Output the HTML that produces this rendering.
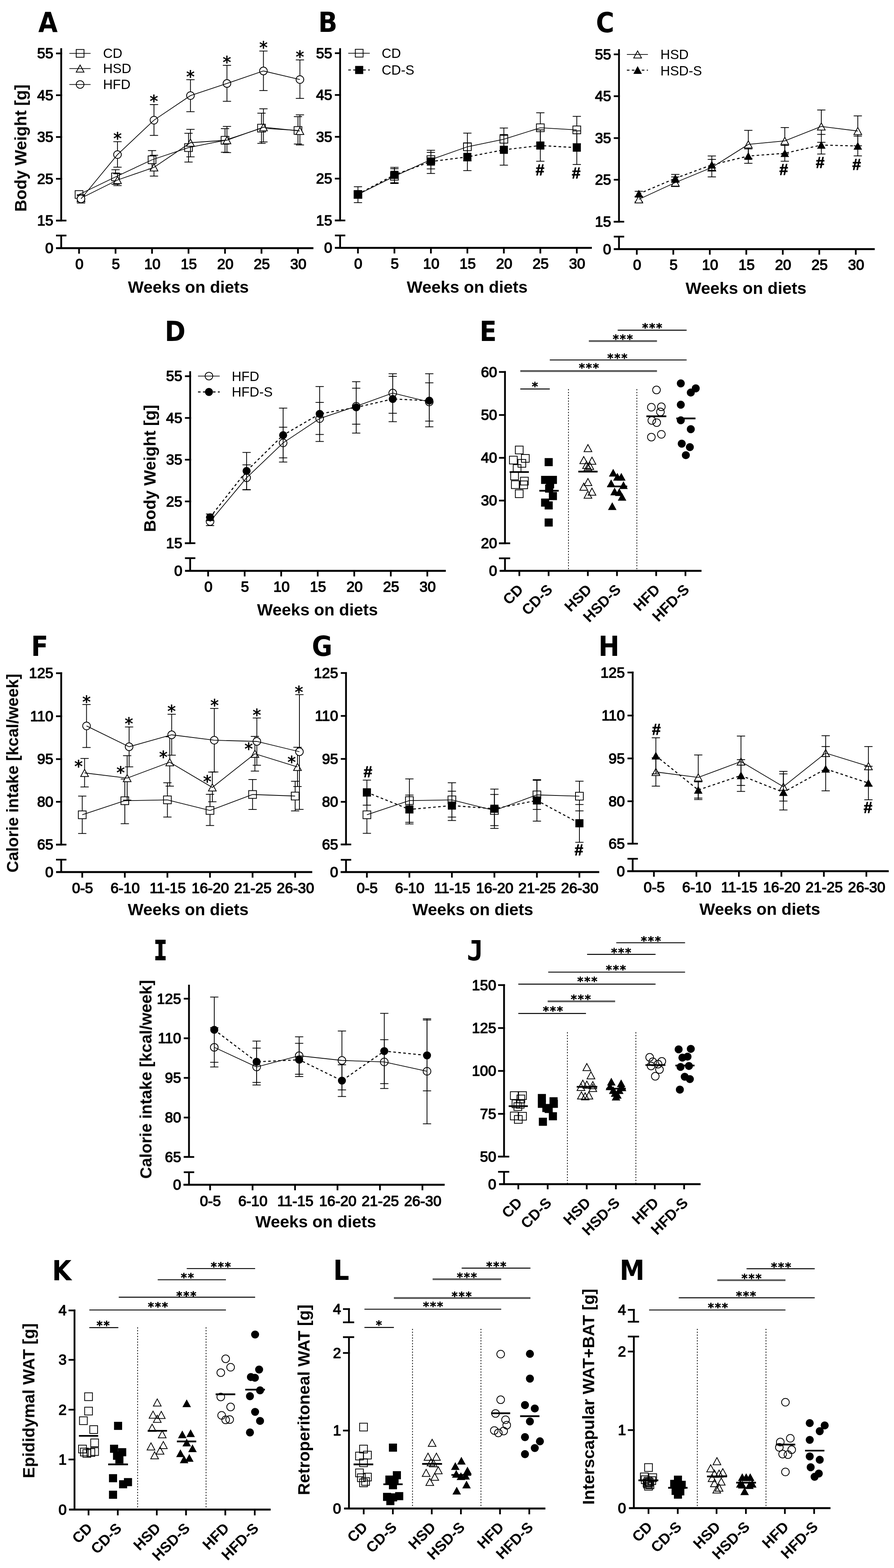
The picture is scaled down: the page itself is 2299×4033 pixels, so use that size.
<!DOCTYPE html>
<html lang="en"><head><meta charset="utf-8"><title>Figure</title>
<style>html,body{margin:0;padding:0;background:#fff}svg{display:block}text{fill:#000}</style></head><body>
<svg width="2299" height="4033" viewBox="0 0 2299 4033">
<defs><filter id="soft" x="0" y="0" width="2299" height="4033" filterUnits="userSpaceOnUse"><feGaussianBlur stdDeviation="0.55"/></filter></defs>
<rect width="2299" height="4033" fill="#fff"/>
<g filter="url(#soft)">
<text x="98.5" y="82" font-family="'DejaVu Sans Condensed','DejaVu Sans',sans-serif" font-size="71.5" font-weight="bold">A</text>
<line x1="157.4" y1="124" x2="157.4" y2="567.3" stroke="#000" stroke-width="4.6"/>
<line x1="157.4" y1="605.8" x2="157.4" y2="638.2" stroke="#000" stroke-width="4.6"/>
<line x1="144" y1="137.4" x2="159.7" y2="137.4" stroke="#000" stroke-width="4.4"/>
<text x="137.2" y="150.2" font-family="'Liberation Sans',sans-serif" font-size="37.5" stroke="#000" stroke-width="1.6" stroke-linejoin="round" text-anchor="end">55</text>
<line x1="144" y1="244.9" x2="159.7" y2="244.9" stroke="#000" stroke-width="4.4"/>
<text x="137.2" y="257.7" font-family="'Liberation Sans',sans-serif" font-size="37.5" stroke="#000" stroke-width="1.6" stroke-linejoin="round" text-anchor="end">45</text>
<line x1="144" y1="352.4" x2="159.7" y2="352.4" stroke="#000" stroke-width="4.4"/>
<text x="137.2" y="365.2" font-family="'Liberation Sans',sans-serif" font-size="37.5" stroke="#000" stroke-width="1.6" stroke-linejoin="round" text-anchor="end">35</text>
<line x1="144" y1="459.9" x2="159.7" y2="459.9" stroke="#000" stroke-width="4.4"/>
<text x="137.2" y="472.7" font-family="'Liberation Sans',sans-serif" font-size="37.5" stroke="#000" stroke-width="1.6" stroke-linejoin="round" text-anchor="end">25</text>
<line x1="144" y1="567.3" x2="159.7" y2="567.3" stroke="#000" stroke-width="4.4"/>
<line x1="144" y1="567.3" x2="170.8" y2="567.3" stroke="#000" stroke-width="4.4"/>
<line x1="144" y1="605.8" x2="170.8" y2="605.8" stroke="#000" stroke-width="4.4"/>
<text x="137.2" y="580.1" font-family="'Liberation Sans',sans-serif" font-size="37.5" stroke="#000" stroke-width="1.6" stroke-linejoin="round" text-anchor="end">15</text>
<text x="137.2" y="651" font-family="'Liberation Sans',sans-serif" font-size="37.5" stroke="#000" stroke-width="1.6" stroke-linejoin="round" text-anchor="end">0</text>
<line x1="144" y1="638.2" x2="806" y2="638.2" stroke="#000" stroke-width="5"/>
<line x1="203.3" y1="638.2" x2="203.3" y2="652.5" stroke="#000" stroke-width="4.4"/>
<text x="204.1" y="691.6" font-family="'Liberation Sans',sans-serif" font-size="37.5" stroke="#000" stroke-width="1.6" stroke-linejoin="round" text-anchor="middle">0</text>
<line x1="297.13" y1="638.2" x2="297.13" y2="652.5" stroke="#000" stroke-width="4.4"/>
<text x="297.93" y="691.6" font-family="'Liberation Sans',sans-serif" font-size="37.5" stroke="#000" stroke-width="1.6" stroke-linejoin="round" text-anchor="middle">5</text>
<line x1="390.96" y1="638.2" x2="390.96" y2="652.5" stroke="#000" stroke-width="4.4"/>
<text x="391.76" y="691.6" font-family="'Liberation Sans',sans-serif" font-size="37.5" stroke="#000" stroke-width="1.6" stroke-linejoin="round" text-anchor="middle">10</text>
<line x1="484.79" y1="638.2" x2="484.79" y2="652.5" stroke="#000" stroke-width="4.4"/>
<text x="485.59" y="691.6" font-family="'Liberation Sans',sans-serif" font-size="37.5" stroke="#000" stroke-width="1.6" stroke-linejoin="round" text-anchor="middle">15</text>
<line x1="578.62" y1="638.2" x2="578.62" y2="652.5" stroke="#000" stroke-width="4.4"/>
<text x="579.42" y="691.6" font-family="'Liberation Sans',sans-serif" font-size="37.5" stroke="#000" stroke-width="1.6" stroke-linejoin="round" text-anchor="middle">20</text>
<line x1="672.45" y1="638.2" x2="672.45" y2="652.5" stroke="#000" stroke-width="4.4"/>
<text x="673.25" y="691.6" font-family="'Liberation Sans',sans-serif" font-size="37.5" stroke="#000" stroke-width="1.6" stroke-linejoin="round" text-anchor="middle">25</text>
<line x1="766.28" y1="638.2" x2="766.28" y2="652.5" stroke="#000" stroke-width="4.4"/>
<text x="767.08" y="691.6" font-family="'Liberation Sans',sans-serif" font-size="37.5" stroke="#000" stroke-width="1.6" stroke-linejoin="round" text-anchor="middle">30</text>
<text x="484.5" y="752.7" font-family="'Liberation Sans',sans-serif" font-size="42.8" font-weight="bold" text-anchor="middle">Weeks on diets</text>
<text x="67.8" y="381" font-family="'Liberation Sans',sans-serif" font-size="42.8" transform="rotate(-90 67.8 381)" font-weight="bold" text-anchor="middle">Body Weight [g]</text>
<line x1="203.3" y1="493" x2="203.3" y2="508" stroke="#000" stroke-width="2"/>
<line x1="192.7" y1="493" x2="213.9" y2="493" stroke="#000" stroke-width="2"/>
<line x1="192.7" y1="508" x2="213.9" y2="508" stroke="#000" stroke-width="2"/>
<line x1="297.13" y1="436.5" x2="297.13" y2="474" stroke="#000" stroke-width="2"/>
<line x1="286.53" y1="436.5" x2="307.73" y2="436.5" stroke="#000" stroke-width="2"/>
<line x1="286.53" y1="474" x2="307.73" y2="474" stroke="#000" stroke-width="2"/>
<line x1="390.96" y1="387.3" x2="390.96" y2="435" stroke="#000" stroke-width="2"/>
<line x1="380.36" y1="387.3" x2="401.56" y2="387.3" stroke="#000" stroke-width="2"/>
<line x1="380.36" y1="435" x2="401.56" y2="435" stroke="#000" stroke-width="2"/>
<line x1="484.79" y1="342.8" x2="484.79" y2="416.8" stroke="#000" stroke-width="2"/>
<line x1="474.19" y1="342.8" x2="495.39" y2="342.8" stroke="#000" stroke-width="2"/>
<line x1="474.19" y1="416.8" x2="495.39" y2="416.8" stroke="#000" stroke-width="2"/>
<line x1="578.62" y1="330.8" x2="578.62" y2="391.6" stroke="#000" stroke-width="2"/>
<line x1="568.02" y1="330.8" x2="589.22" y2="330.8" stroke="#000" stroke-width="2"/>
<line x1="568.02" y1="391.6" x2="589.22" y2="391.6" stroke="#000" stroke-width="2"/>
<line x1="672.45" y1="291.1" x2="672.45" y2="368.8" stroke="#000" stroke-width="2"/>
<line x1="661.85" y1="291.1" x2="683.05" y2="291.1" stroke="#000" stroke-width="2"/>
<line x1="661.85" y1="368.8" x2="683.05" y2="368.8" stroke="#000" stroke-width="2"/>
<line x1="766.28" y1="300" x2="766.28" y2="370.4" stroke="#000" stroke-width="2"/>
<line x1="755.68" y1="300" x2="776.88" y2="300" stroke="#000" stroke-width="2"/>
<line x1="755.68" y1="370.4" x2="776.88" y2="370.4" stroke="#000" stroke-width="2"/>
<rect x="193.3" y="490.3" width="20" height="20" fill="#fff" stroke="#000" stroke-width="2"/>
<rect x="287.13" y="445" width="20" height="20" fill="#fff" stroke="#000" stroke-width="2"/>
<rect x="380.96" y="401" width="20" height="20" fill="#fff" stroke="#000" stroke-width="2"/>
<rect x="474.79" y="369.6" width="20" height="20" fill="#fff" stroke="#000" stroke-width="2"/>
<rect x="568.62" y="350.8" width="20" height="20" fill="#fff" stroke="#000" stroke-width="2"/>
<rect x="662.45" y="319.6" width="20" height="20" fill="#fff" stroke="#000" stroke-width="2"/>
<rect x="756.28" y="325.6" width="20" height="20" fill="#fff" stroke="#000" stroke-width="2"/>
<polyline points="203.3,500.3 297.13,455 390.96,411 484.79,379.6 578.62,360.8 672.45,329.6 766.28,335.6" fill="none" stroke="#000" stroke-width="1.8"/>
<line x1="208.3" y1="503" x2="208.3" y2="516.5" stroke="#000" stroke-width="2"/>
<line x1="197.7" y1="503" x2="218.9" y2="503" stroke="#000" stroke-width="2"/>
<line x1="197.7" y1="516.5" x2="218.9" y2="516.5" stroke="#000" stroke-width="2"/>
<line x1="302.13" y1="447" x2="302.13" y2="477.4" stroke="#000" stroke-width="2"/>
<line x1="291.53" y1="447" x2="312.73" y2="447" stroke="#000" stroke-width="2"/>
<line x1="291.53" y1="477.4" x2="312.73" y2="477.4" stroke="#000" stroke-width="2"/>
<line x1="395.96" y1="399.3" x2="395.96" y2="452.9" stroke="#000" stroke-width="2"/>
<line x1="385.36" y1="399.3" x2="406.56" y2="399.3" stroke="#000" stroke-width="2"/>
<line x1="385.36" y1="452.9" x2="406.56" y2="452.9" stroke="#000" stroke-width="2"/>
<line x1="489.79" y1="332.7" x2="489.79" y2="403.4" stroke="#000" stroke-width="2"/>
<line x1="479.19" y1="332.7" x2="500.39" y2="332.7" stroke="#000" stroke-width="2"/>
<line x1="479.19" y1="403.4" x2="500.39" y2="403.4" stroke="#000" stroke-width="2"/>
<line x1="583.62" y1="325.2" x2="583.62" y2="392.5" stroke="#000" stroke-width="2"/>
<line x1="573.02" y1="325.2" x2="594.22" y2="325.2" stroke="#000" stroke-width="2"/>
<line x1="573.02" y1="392.5" x2="594.22" y2="392.5" stroke="#000" stroke-width="2"/>
<line x1="677.45" y1="279.8" x2="677.45" y2="365.1" stroke="#000" stroke-width="2"/>
<line x1="666.85" y1="279.8" x2="688.05" y2="279.8" stroke="#000" stroke-width="2"/>
<line x1="666.85" y1="365.1" x2="688.05" y2="365.1" stroke="#000" stroke-width="2"/>
<line x1="771.28" y1="295.4" x2="771.28" y2="372.8" stroke="#000" stroke-width="2"/>
<line x1="760.68" y1="295.4" x2="781.88" y2="295.4" stroke="#000" stroke-width="2"/>
<line x1="760.68" y1="372.8" x2="781.88" y2="372.8" stroke="#000" stroke-width="2"/>
<polygon points="208.3,500.6 218.3,519 198.3,519" fill="#fff" stroke="#000" stroke-width="2" stroke-linejoin="miter"/>
<polygon points="302.13,453.8 312.13,472.2 292.13,472.2" fill="#fff" stroke="#000" stroke-width="2" stroke-linejoin="miter"/>
<polygon points="395.96,421.3 405.96,439.7 385.96,439.7" fill="#fff" stroke="#000" stroke-width="2" stroke-linejoin="miter"/>
<polygon points="489.79,357.8 499.79,376.2 479.79,376.2" fill="#fff" stroke="#000" stroke-width="2" stroke-linejoin="miter"/>
<polygon points="583.62,351.3 593.62,369.7 573.62,369.7" fill="#fff" stroke="#000" stroke-width="2" stroke-linejoin="miter"/>
<polygon points="677.45,318 687.45,336.4 667.45,336.4" fill="#fff" stroke="#000" stroke-width="2" stroke-linejoin="miter"/>
<polygon points="771.28,327.6 781.28,346 761.28,346" fill="#fff" stroke="#000" stroke-width="2" stroke-linejoin="miter"/>
<polyline points="208.3,509.8 302.13,463 395.96,430.5 489.79,367 583.62,360.5 677.45,327.2 771.28,336.8" fill="none" stroke="#000" stroke-width="1.8"/>
<line x1="208.3" y1="500.8" x2="208.3" y2="522.2" stroke="#000" stroke-width="2"/>
<line x1="197.7" y1="500.8" x2="218.9" y2="500.8" stroke="#000" stroke-width="2"/>
<line x1="197.7" y1="522.2" x2="218.9" y2="522.2" stroke="#000" stroke-width="2"/>
<line x1="302.13" y1="364.4" x2="302.13" y2="430" stroke="#000" stroke-width="2"/>
<line x1="291.53" y1="364.4" x2="312.73" y2="364.4" stroke="#000" stroke-width="2"/>
<line x1="291.53" y1="430" x2="312.73" y2="430" stroke="#000" stroke-width="2"/>
<line x1="395.96" y1="269" x2="395.96" y2="348.3" stroke="#000" stroke-width="2"/>
<line x1="385.36" y1="269" x2="406.56" y2="269" stroke="#000" stroke-width="2"/>
<line x1="385.36" y1="348.3" x2="406.56" y2="348.3" stroke="#000" stroke-width="2"/>
<line x1="489.79" y1="205" x2="489.79" y2="287.3" stroke="#000" stroke-width="2"/>
<line x1="479.19" y1="205" x2="500.39" y2="205" stroke="#000" stroke-width="2"/>
<line x1="479.19" y1="287.3" x2="500.39" y2="287.3" stroke="#000" stroke-width="2"/>
<line x1="583.62" y1="168" x2="583.62" y2="260.6" stroke="#000" stroke-width="2"/>
<line x1="573.02" y1="168" x2="594.22" y2="168" stroke="#000" stroke-width="2"/>
<line x1="573.02" y1="260.6" x2="594.22" y2="260.6" stroke="#000" stroke-width="2"/>
<line x1="677.45" y1="131.3" x2="677.45" y2="232.9" stroke="#000" stroke-width="2"/>
<line x1="666.85" y1="131.3" x2="688.05" y2="131.3" stroke="#000" stroke-width="2"/>
<line x1="666.85" y1="232.9" x2="688.05" y2="232.9" stroke="#000" stroke-width="2"/>
<line x1="771.28" y1="154.1" x2="771.28" y2="253.1" stroke="#000" stroke-width="2"/>
<line x1="760.68" y1="154.1" x2="781.88" y2="154.1" stroke="#000" stroke-width="2"/>
<line x1="760.68" y1="253.1" x2="781.88" y2="253.1" stroke="#000" stroke-width="2"/>
<circle cx="208.3" cy="511.5" r="9.9" fill="#fff" stroke="#000" stroke-width="2"/>
<circle cx="302.13" cy="397.6" r="9.9" fill="#fff" stroke="#000" stroke-width="2"/>
<circle cx="395.96" cy="309.1" r="9.9" fill="#fff" stroke="#000" stroke-width="2"/>
<circle cx="489.79" cy="245.9" r="9.9" fill="#fff" stroke="#000" stroke-width="2"/>
<circle cx="583.62" cy="214.7" r="9.9" fill="#fff" stroke="#000" stroke-width="2"/>
<circle cx="677.45" cy="182.5" r="9.9" fill="#fff" stroke="#000" stroke-width="2"/>
<circle cx="771.28" cy="204.6" r="9.9" fill="#fff" stroke="#000" stroke-width="2"/>
<polyline points="208.3,511.5 302.13,397.6 395.96,309.1 489.79,245.9 583.62,214.7 677.45,182.5 771.28,204.6" fill="none" stroke="#000" stroke-width="1.8"/>
<text x="302.2" y="370.57" font-family="'DejaVu Sans',sans-serif" font-size="43" stroke="#000" stroke-width="1" stroke-linejoin="round" text-anchor="middle">*</text>
<text x="395.7" y="274.87" font-family="'DejaVu Sans',sans-serif" font-size="43" stroke="#000" stroke-width="1" stroke-linejoin="round" text-anchor="middle">*</text>
<text x="489.7" y="211.97" font-family="'DejaVu Sans',sans-serif" font-size="43" stroke="#000" stroke-width="1" stroke-linejoin="round" text-anchor="middle">*</text>
<text x="583.4" y="175.07" font-family="'DejaVu Sans',sans-serif" font-size="43" stroke="#000" stroke-width="1" stroke-linejoin="round" text-anchor="middle">*</text>
<text x="677.6" y="137.37" font-family="'DejaVu Sans',sans-serif" font-size="43" stroke="#000" stroke-width="1" stroke-linejoin="round" text-anchor="middle">*</text>
<text x="771.2" y="160.77" font-family="'DejaVu Sans',sans-serif" font-size="43" stroke="#000" stroke-width="1" stroke-linejoin="round" text-anchor="middle">*</text>
<rect x="196" y="127.3" width="20" height="20" fill="#fff" stroke="#000" stroke-width="2"/>
<line x1="178.4" y1="137.3" x2="232.9" y2="137.3" stroke="#000" stroke-width="1.8"/>
<text x="265" y="149.3" font-family="'Liberation Sans',sans-serif" font-size="34.4">CD</text>
<polygon points="206,167.2 216,185.6 196,185.6" fill="#fff" stroke="#000" stroke-width="2" stroke-linejoin="miter"/>
<line x1="178.4" y1="176.4" x2="232.9" y2="176.4" stroke="#000" stroke-width="1.8"/>
<text x="265" y="188.2" font-family="'Liberation Sans',sans-serif" font-size="34.4">HSD</text>
<circle cx="206" cy="217.3" r="9.9" fill="#fff" stroke="#000" stroke-width="2"/>
<line x1="178.4" y1="217.3" x2="232.9" y2="217.3" stroke="#000" stroke-width="1.8"/>
<text x="265" y="229.1" font-family="'Liberation Sans',sans-serif" font-size="34.4">HFD</text>
<text x="818.5" y="82" font-family="'DejaVu Sans Condensed','DejaVu Sans',sans-serif" font-size="71.5" font-weight="bold">B</text>
<line x1="874.6" y1="124" x2="874.6" y2="567" stroke="#000" stroke-width="4.6"/>
<line x1="874.6" y1="605.6" x2="874.6" y2="637.6" stroke="#000" stroke-width="4.6"/>
<line x1="861.2" y1="136.8" x2="876.9" y2="136.8" stroke="#000" stroke-width="4.4"/>
<text x="854.4" y="149.6" font-family="'Liberation Sans',sans-serif" font-size="37.5" stroke="#000" stroke-width="1.6" stroke-linejoin="round" text-anchor="end">55</text>
<line x1="861.2" y1="244.3" x2="876.9" y2="244.3" stroke="#000" stroke-width="4.4"/>
<text x="854.4" y="257.1" font-family="'Liberation Sans',sans-serif" font-size="37.5" stroke="#000" stroke-width="1.6" stroke-linejoin="round" text-anchor="end">45</text>
<line x1="861.2" y1="351.9" x2="876.9" y2="351.9" stroke="#000" stroke-width="4.4"/>
<text x="854.4" y="364.7" font-family="'Liberation Sans',sans-serif" font-size="37.5" stroke="#000" stroke-width="1.6" stroke-linejoin="round" text-anchor="end">35</text>
<line x1="861.2" y1="459.4" x2="876.9" y2="459.4" stroke="#000" stroke-width="4.4"/>
<text x="854.4" y="472.2" font-family="'Liberation Sans',sans-serif" font-size="37.5" stroke="#000" stroke-width="1.6" stroke-linejoin="round" text-anchor="end">25</text>
<line x1="861.2" y1="567" x2="876.9" y2="567" stroke="#000" stroke-width="4.4"/>
<line x1="861.2" y1="567" x2="888" y2="567" stroke="#000" stroke-width="4.4"/>
<line x1="861.2" y1="605.6" x2="888" y2="605.6" stroke="#000" stroke-width="4.4"/>
<text x="854.4" y="579.8" font-family="'Liberation Sans',sans-serif" font-size="37.5" stroke="#000" stroke-width="1.6" stroke-linejoin="round" text-anchor="end">15</text>
<text x="854.4" y="650.4" font-family="'Liberation Sans',sans-serif" font-size="37.5" stroke="#000" stroke-width="1.6" stroke-linejoin="round" text-anchor="end">0</text>
<line x1="861.2" y1="637.6" x2="1522" y2="637.6" stroke="#000" stroke-width="5"/>
<line x1="920.5" y1="637.6" x2="920.5" y2="651.9" stroke="#000" stroke-width="4.4"/>
<text x="921.3" y="691" font-family="'Liberation Sans',sans-serif" font-size="37.5" stroke="#000" stroke-width="1.6" stroke-linejoin="round" text-anchor="middle">0</text>
<line x1="1014.3" y1="637.6" x2="1014.3" y2="651.9" stroke="#000" stroke-width="4.4"/>
<text x="1015.1" y="691" font-family="'Liberation Sans',sans-serif" font-size="37.5" stroke="#000" stroke-width="1.6" stroke-linejoin="round" text-anchor="middle">5</text>
<line x1="1108.1" y1="637.6" x2="1108.1" y2="651.9" stroke="#000" stroke-width="4.4"/>
<text x="1108.9" y="691" font-family="'Liberation Sans',sans-serif" font-size="37.5" stroke="#000" stroke-width="1.6" stroke-linejoin="round" text-anchor="middle">10</text>
<line x1="1201.9" y1="637.6" x2="1201.9" y2="651.9" stroke="#000" stroke-width="4.4"/>
<text x="1202.7" y="691" font-family="'Liberation Sans',sans-serif" font-size="37.5" stroke="#000" stroke-width="1.6" stroke-linejoin="round" text-anchor="middle">15</text>
<line x1="1295.7" y1="637.6" x2="1295.7" y2="651.9" stroke="#000" stroke-width="4.4"/>
<text x="1296.5" y="691" font-family="'Liberation Sans',sans-serif" font-size="37.5" stroke="#000" stroke-width="1.6" stroke-linejoin="round" text-anchor="middle">20</text>
<line x1="1389.5" y1="637.6" x2="1389.5" y2="651.9" stroke="#000" stroke-width="4.4"/>
<text x="1390.3" y="691" font-family="'Liberation Sans',sans-serif" font-size="37.5" stroke="#000" stroke-width="1.6" stroke-linejoin="round" text-anchor="middle">25</text>
<line x1="1483.3" y1="637.6" x2="1483.3" y2="651.9" stroke="#000" stroke-width="4.4"/>
<text x="1484.1" y="691" font-family="'Liberation Sans',sans-serif" font-size="37.5" stroke="#000" stroke-width="1.6" stroke-linejoin="round" text-anchor="middle">30</text>
<text x="1201.5" y="752.7" font-family="'Liberation Sans',sans-serif" font-size="42.8" font-weight="bold" text-anchor="middle">Weeks on diets</text>
<line x1="920.5" y1="493" x2="920.5" y2="508" stroke="#000" stroke-width="2"/>
<line x1="909.9" y1="493" x2="931.1" y2="493" stroke="#000" stroke-width="2"/>
<line x1="909.9" y1="508" x2="931.1" y2="508" stroke="#000" stroke-width="2"/>
<line x1="1014.3" y1="434" x2="1014.3" y2="472" stroke="#000" stroke-width="2"/>
<line x1="1003.7" y1="434" x2="1024.9" y2="434" stroke="#000" stroke-width="2"/>
<line x1="1003.7" y1="472" x2="1024.9" y2="472" stroke="#000" stroke-width="2"/>
<line x1="1108.1" y1="386.5" x2="1108.1" y2="434.4" stroke="#000" stroke-width="2"/>
<line x1="1097.5" y1="386.5" x2="1118.7" y2="386.5" stroke="#000" stroke-width="2"/>
<line x1="1097.5" y1="434.4" x2="1118.7" y2="434.4" stroke="#000" stroke-width="2"/>
<line x1="1201.9" y1="342.4" x2="1201.9" y2="414" stroke="#000" stroke-width="2"/>
<line x1="1191.3" y1="342.4" x2="1212.5" y2="342.4" stroke="#000" stroke-width="2"/>
<line x1="1191.3" y1="414" x2="1212.5" y2="414" stroke="#000" stroke-width="2"/>
<line x1="1295.7" y1="329.3" x2="1295.7" y2="388" stroke="#000" stroke-width="2"/>
<line x1="1285.1" y1="329.3" x2="1306.3" y2="329.3" stroke="#000" stroke-width="2"/>
<line x1="1285.1" y1="388" x2="1306.3" y2="388" stroke="#000" stroke-width="2"/>
<line x1="1389.5" y1="290.1" x2="1389.5" y2="367.5" stroke="#000" stroke-width="2"/>
<line x1="1378.9" y1="290.1" x2="1400.1" y2="290.1" stroke="#000" stroke-width="2"/>
<line x1="1378.9" y1="367.5" x2="1400.1" y2="367.5" stroke="#000" stroke-width="2"/>
<line x1="1483.3" y1="299.3" x2="1483.3" y2="369.5" stroke="#000" stroke-width="2"/>
<line x1="1472.7" y1="299.3" x2="1493.9" y2="299.3" stroke="#000" stroke-width="2"/>
<line x1="1472.7" y1="369.5" x2="1493.9" y2="369.5" stroke="#000" stroke-width="2"/>
<rect x="910.5" y="490.3" width="20" height="20" fill="#fff" stroke="#000" stroke-width="2"/>
<rect x="1004.3" y="443.4" width="20" height="20" fill="#fff" stroke="#000" stroke-width="2"/>
<rect x="1098.1" y="400.5" width="20" height="20" fill="#fff" stroke="#000" stroke-width="2"/>
<rect x="1191.9" y="367.5" width="20" height="20" fill="#fff" stroke="#000" stroke-width="2"/>
<rect x="1285.7" y="348.2" width="20" height="20" fill="#fff" stroke="#000" stroke-width="2"/>
<rect x="1379.5" y="318.6" width="20" height="20" fill="#fff" stroke="#000" stroke-width="2"/>
<rect x="1473.3" y="324.1" width="20" height="20" fill="#fff" stroke="#000" stroke-width="2"/>
<polyline points="920.5,500.3 1014.3,453.4 1108.1,410.5 1201.9,377.5 1295.7,358.2 1389.5,328.6 1483.3,334.1" fill="none" stroke="#000" stroke-width="1.8"/>
<line x1="920.5" y1="480.3" x2="920.5" y2="521.2" stroke="#000" stroke-width="2"/>
<line x1="909.9" y1="480.3" x2="931.1" y2="480.3" stroke="#000" stroke-width="2"/>
<line x1="909.9" y1="521.2" x2="931.1" y2="521.2" stroke="#000" stroke-width="2"/>
<line x1="1014.3" y1="430.5" x2="1014.3" y2="470" stroke="#000" stroke-width="2"/>
<line x1="1003.7" y1="430.5" x2="1024.9" y2="430.5" stroke="#000" stroke-width="2"/>
<line x1="1003.7" y1="470" x2="1024.9" y2="470" stroke="#000" stroke-width="2"/>
<line x1="1108.1" y1="392" x2="1108.1" y2="446.2" stroke="#000" stroke-width="2"/>
<line x1="1097.5" y1="392" x2="1118.7" y2="392" stroke="#000" stroke-width="2"/>
<line x1="1097.5" y1="446.2" x2="1118.7" y2="446.2" stroke="#000" stroke-width="2"/>
<line x1="1201.9" y1="368" x2="1201.9" y2="438.8" stroke="#000" stroke-width="2"/>
<line x1="1191.3" y1="368" x2="1212.5" y2="368" stroke="#000" stroke-width="2"/>
<line x1="1191.3" y1="438.8" x2="1212.5" y2="438.8" stroke="#000" stroke-width="2"/>
<line x1="1295.7" y1="346" x2="1295.7" y2="424.8" stroke="#000" stroke-width="2"/>
<line x1="1285.1" y1="346" x2="1306.3" y2="346" stroke="#000" stroke-width="2"/>
<line x1="1285.1" y1="424.8" x2="1306.3" y2="424.8" stroke="#000" stroke-width="2"/>
<line x1="1389.5" y1="334" x2="1389.5" y2="414.7" stroke="#000" stroke-width="2"/>
<line x1="1378.9" y1="334" x2="1400.1" y2="334" stroke="#000" stroke-width="2"/>
<line x1="1378.9" y1="414.7" x2="1400.1" y2="414.7" stroke="#000" stroke-width="2"/>
<line x1="1483.3" y1="336.5" x2="1483.3" y2="423.1" stroke="#000" stroke-width="2"/>
<line x1="1472.7" y1="336.5" x2="1493.9" y2="336.5" stroke="#000" stroke-width="2"/>
<line x1="1472.7" y1="423.1" x2="1493.9" y2="423.1" stroke="#000" stroke-width="2"/>
<rect x="910.1" y="489.1" width="20.8" height="20.8" fill="#000"/>
<rect x="1003.9" y="439.4" width="20.8" height="20.8" fill="#000"/>
<rect x="1097.7" y="405.1" width="20.8" height="20.8" fill="#000"/>
<rect x="1191.5" y="393.2" width="20.8" height="20.8" fill="#000"/>
<rect x="1285.3" y="374.9" width="20.8" height="20.8" fill="#000"/>
<rect x="1379.1" y="363.9" width="20.8" height="20.8" fill="#000"/>
<rect x="1472.9" y="369.4" width="20.8" height="20.8" fill="#000"/>
<polyline points="920.5,499.5 1014.3,449.8 1108.1,415.5 1201.9,403.6 1295.7,385.3 1389.5,374.3 1483.3,379.8" fill="none" stroke="#000" stroke-width="2.7" stroke-dasharray="6.6 6.2"/>
<text x="1388.7" y="450.6" font-family="'Liberation Sans',sans-serif" font-size="40" stroke="#000" stroke-width="1.1" stroke-linejoin="round" font-weight="bold" text-anchor="middle">#</text>
<text x="1481.7" y="458.8" font-family="'Liberation Sans',sans-serif" font-size="40" stroke="#000" stroke-width="1.1" stroke-linejoin="round" font-weight="bold" text-anchor="middle">#</text>
<rect x="913.7" y="126.8" width="20" height="20" fill="#fff" stroke="#000" stroke-width="2"/>
<line x1="895.6" y1="136.8" x2="950.9" y2="136.8" stroke="#000" stroke-width="1.8"/>
<text x="981.5" y="148.8" font-family="'Liberation Sans',sans-serif" font-size="34.4">CD</text>
<rect x="913.3" y="169.6" width="20.8" height="20.8" fill="#000"/>
<line x1="895.6" y1="180" x2="950.9" y2="180" stroke="#000" stroke-width="2.7" stroke-dasharray="6.6 6.2"/>
<text x="981.5" y="192" font-family="'Liberation Sans',sans-serif" font-size="34.4">CD-S</text>
<text x="1532.5" y="82.5" font-family="'DejaVu Sans Condensed','DejaVu Sans',sans-serif" font-size="71.5" font-weight="bold">C</text>
<line x1="1591.8" y1="126.4" x2="1591.8" y2="570.2" stroke="#000" stroke-width="4.6"/>
<line x1="1591.8" y1="608.6" x2="1591.8" y2="640.8" stroke="#000" stroke-width="4.6"/>
<line x1="1578.4" y1="139.8" x2="1594.1" y2="139.8" stroke="#000" stroke-width="4.4"/>
<text x="1571.6" y="152.6" font-family="'Liberation Sans',sans-serif" font-size="37.5" stroke="#000" stroke-width="1.6" stroke-linejoin="round" text-anchor="end">55</text>
<line x1="1578.4" y1="247.4" x2="1594.1" y2="247.4" stroke="#000" stroke-width="4.4"/>
<text x="1571.6" y="260.2" font-family="'Liberation Sans',sans-serif" font-size="37.5" stroke="#000" stroke-width="1.6" stroke-linejoin="round" text-anchor="end">45</text>
<line x1="1578.4" y1="355.2" x2="1594.1" y2="355.2" stroke="#000" stroke-width="4.4"/>
<text x="1571.6" y="368" font-family="'Liberation Sans',sans-serif" font-size="37.5" stroke="#000" stroke-width="1.6" stroke-linejoin="round" text-anchor="end">35</text>
<line x1="1578.4" y1="462.3" x2="1594.1" y2="462.3" stroke="#000" stroke-width="4.4"/>
<text x="1571.6" y="475.1" font-family="'Liberation Sans',sans-serif" font-size="37.5" stroke="#000" stroke-width="1.6" stroke-linejoin="round" text-anchor="end">25</text>
<line x1="1578.4" y1="570.2" x2="1594.1" y2="570.2" stroke="#000" stroke-width="4.4"/>
<line x1="1578.4" y1="570.2" x2="1605.2" y2="570.2" stroke="#000" stroke-width="4.4"/>
<line x1="1578.4" y1="608.6" x2="1605.2" y2="608.6" stroke="#000" stroke-width="4.4"/>
<text x="1571.6" y="583" font-family="'Liberation Sans',sans-serif" font-size="37.5" stroke="#000" stroke-width="1.6" stroke-linejoin="round" text-anchor="end">15</text>
<text x="1571.6" y="653.6" font-family="'Liberation Sans',sans-serif" font-size="37.5" stroke="#000" stroke-width="1.6" stroke-linejoin="round" text-anchor="end">0</text>
<line x1="1578.4" y1="640.8" x2="2249.5" y2="640.8" stroke="#000" stroke-width="5"/>
<line x1="1637.6" y1="640.8" x2="1637.6" y2="655.1" stroke="#000" stroke-width="4.4"/>
<text x="1638.4" y="694.2" font-family="'Liberation Sans',sans-serif" font-size="37.5" stroke="#000" stroke-width="1.6" stroke-linejoin="round" text-anchor="middle">0</text>
<line x1="1731.45" y1="640.8" x2="1731.45" y2="655.1" stroke="#000" stroke-width="4.4"/>
<text x="1732.25" y="694.2" font-family="'Liberation Sans',sans-serif" font-size="37.5" stroke="#000" stroke-width="1.6" stroke-linejoin="round" text-anchor="middle">5</text>
<line x1="1825.3" y1="640.8" x2="1825.3" y2="655.1" stroke="#000" stroke-width="4.4"/>
<text x="1826.1" y="694.2" font-family="'Liberation Sans',sans-serif" font-size="37.5" stroke="#000" stroke-width="1.6" stroke-linejoin="round" text-anchor="middle">10</text>
<line x1="1919.15" y1="640.8" x2="1919.15" y2="655.1" stroke="#000" stroke-width="4.4"/>
<text x="1919.95" y="694.2" font-family="'Liberation Sans',sans-serif" font-size="37.5" stroke="#000" stroke-width="1.6" stroke-linejoin="round" text-anchor="middle">15</text>
<line x1="2013" y1="640.8" x2="2013" y2="655.1" stroke="#000" stroke-width="4.4"/>
<text x="2013.8" y="694.2" font-family="'Liberation Sans',sans-serif" font-size="37.5" stroke="#000" stroke-width="1.6" stroke-linejoin="round" text-anchor="middle">20</text>
<line x1="2106.85" y1="640.8" x2="2106.85" y2="655.1" stroke="#000" stroke-width="4.4"/>
<text x="2107.65" y="694.2" font-family="'Liberation Sans',sans-serif" font-size="37.5" stroke="#000" stroke-width="1.6" stroke-linejoin="round" text-anchor="middle">25</text>
<line x1="2200.7" y1="640.8" x2="2200.7" y2="655.1" stroke="#000" stroke-width="4.4"/>
<text x="2201.5" y="694.2" font-family="'Liberation Sans',sans-serif" font-size="37.5" stroke="#000" stroke-width="1.6" stroke-linejoin="round" text-anchor="middle">30</text>
<text x="1918.5" y="755.5" font-family="'Liberation Sans',sans-serif" font-size="42.8" font-weight="bold" text-anchor="middle">Weeks on diets</text>
<line x1="1642.8" y1="506" x2="1642.8" y2="519" stroke="#000" stroke-width="2"/>
<line x1="1632.2" y1="506" x2="1653.4" y2="506" stroke="#000" stroke-width="2"/>
<line x1="1632.2" y1="519" x2="1653.4" y2="519" stroke="#000" stroke-width="2"/>
<line x1="1736.65" y1="455" x2="1736.65" y2="479.8" stroke="#000" stroke-width="2"/>
<line x1="1726.05" y1="455" x2="1747.25" y2="455" stroke="#000" stroke-width="2"/>
<line x1="1726.05" y1="479.8" x2="1747.25" y2="479.8" stroke="#000" stroke-width="2"/>
<line x1="1830.5" y1="401.2" x2="1830.5" y2="455" stroke="#000" stroke-width="2"/>
<line x1="1819.9" y1="401.2" x2="1841.1" y2="401.2" stroke="#000" stroke-width="2"/>
<line x1="1819.9" y1="455" x2="1841.1" y2="455" stroke="#000" stroke-width="2"/>
<line x1="1924.35" y1="335.3" x2="1924.35" y2="407" stroke="#000" stroke-width="2"/>
<line x1="1913.75" y1="335.3" x2="1934.95" y2="335.3" stroke="#000" stroke-width="2"/>
<line x1="1913.75" y1="407" x2="1934.95" y2="407" stroke="#000" stroke-width="2"/>
<line x1="2018.2" y1="328.1" x2="2018.2" y2="396" stroke="#000" stroke-width="2"/>
<line x1="2007.6" y1="328.1" x2="2028.8" y2="328.1" stroke="#000" stroke-width="2"/>
<line x1="2007.6" y1="396" x2="2028.8" y2="396" stroke="#000" stroke-width="2"/>
<line x1="2112.05" y1="282.9" x2="2112.05" y2="366" stroke="#000" stroke-width="2"/>
<line x1="2101.45" y1="282.9" x2="2122.65" y2="282.9" stroke="#000" stroke-width="2"/>
<line x1="2101.45" y1="366" x2="2122.65" y2="366" stroke="#000" stroke-width="2"/>
<line x1="2205.9" y1="298.1" x2="2205.9" y2="375" stroke="#000" stroke-width="2"/>
<line x1="2195.3" y1="298.1" x2="2216.5" y2="298.1" stroke="#000" stroke-width="2"/>
<line x1="2195.3" y1="375" x2="2216.5" y2="375" stroke="#000" stroke-width="2"/>
<polygon points="1642.8,503.5 1652.8,521.9 1632.8,521.9" fill="#fff" stroke="#000" stroke-width="2" stroke-linejoin="miter"/>
<polygon points="1736.65,460.3 1746.65,478.7 1726.65,478.7" fill="#fff" stroke="#000" stroke-width="2" stroke-linejoin="miter"/>
<polygon points="1830.5,421.6 1840.5,440 1820.5,440" fill="#fff" stroke="#000" stroke-width="2" stroke-linejoin="miter"/>
<polygon points="1924.35,362.2 1934.35,380.6 1914.35,380.6" fill="#fff" stroke="#000" stroke-width="2" stroke-linejoin="miter"/>
<polygon points="2018.2,353.1 2028.2,371.5 2008.2,371.5" fill="#fff" stroke="#000" stroke-width="2" stroke-linejoin="miter"/>
<polygon points="2112.05,316 2122.05,334.4 2102.05,334.4" fill="#fff" stroke="#000" stroke-width="2" stroke-linejoin="miter"/>
<polygon points="2205.9,327.8 2215.9,346.2 2195.9,346.2" fill="#fff" stroke="#000" stroke-width="2" stroke-linejoin="miter"/>
<polyline points="1642.8,512.7 1736.65,469.5 1830.5,430.8 1924.35,371.4 2018.2,362.3 2112.05,325.2 2205.9,337" fill="none" stroke="#000" stroke-width="1.8"/>
<line x1="1642.8" y1="492" x2="1642.8" y2="505" stroke="#000" stroke-width="2"/>
<line x1="1632.2" y1="492" x2="1653.4" y2="492" stroke="#000" stroke-width="2"/>
<line x1="1632.2" y1="505" x2="1653.4" y2="505" stroke="#000" stroke-width="2"/>
<line x1="1736.65" y1="448.6" x2="1736.65" y2="469" stroke="#000" stroke-width="2"/>
<line x1="1726.05" y1="448.6" x2="1747.25" y2="448.6" stroke="#000" stroke-width="2"/>
<line x1="1726.05" y1="469" x2="1747.25" y2="469" stroke="#000" stroke-width="2"/>
<line x1="1830.5" y1="410" x2="1830.5" y2="438" stroke="#000" stroke-width="2"/>
<line x1="1819.9" y1="410" x2="1841.1" y2="410" stroke="#000" stroke-width="2"/>
<line x1="1819.9" y1="438" x2="1841.1" y2="438" stroke="#000" stroke-width="2"/>
<line x1="1924.35" y1="383" x2="1924.35" y2="420" stroke="#000" stroke-width="2"/>
<line x1="1913.75" y1="383" x2="1934.95" y2="383" stroke="#000" stroke-width="2"/>
<line x1="1913.75" y1="420" x2="1934.95" y2="420" stroke="#000" stroke-width="2"/>
<line x1="2018.2" y1="374" x2="2018.2" y2="414.7" stroke="#000" stroke-width="2"/>
<line x1="2007.6" y1="374" x2="2028.8" y2="374" stroke="#000" stroke-width="2"/>
<line x1="2007.6" y1="414.7" x2="2028.8" y2="414.7" stroke="#000" stroke-width="2"/>
<line x1="2112.05" y1="345.7" x2="2112.05" y2="396.2" stroke="#000" stroke-width="2"/>
<line x1="2101.45" y1="345.7" x2="2122.65" y2="345.7" stroke="#000" stroke-width="2"/>
<line x1="2101.45" y1="396.2" x2="2122.65" y2="396.2" stroke="#000" stroke-width="2"/>
<line x1="2205.9" y1="350" x2="2205.9" y2="401" stroke="#000" stroke-width="2"/>
<line x1="2195.3" y1="350" x2="2216.5" y2="350" stroke="#000" stroke-width="2"/>
<line x1="2195.3" y1="401" x2="2216.5" y2="401" stroke="#000" stroke-width="2"/>
<polygon points="1642.8,488 1653.8,508 1631.8,508" fill="#000"/>
<polygon points="1736.65,448.2 1747.65,468.2 1725.65,468.2" fill="#000"/>
<polygon points="1830.5,413.5 1841.5,433.5 1819.5,433.5" fill="#000"/>
<polygon points="1924.35,390.9 1935.35,410.9 1913.35,410.9" fill="#000"/>
<polygon points="2018.2,383.7 2029.2,403.7 2007.2,403.7" fill="#000"/>
<polygon points="2112.05,362.6 2123.05,382.6 2101.05,382.6" fill="#000"/>
<polygon points="2205.9,365 2216.9,385 2194.9,385" fill="#000"/>
<polyline points="1642.8,498.5 1736.65,458.7 1830.5,424 1924.35,401.4 2018.2,394.2 2112.05,373.1 2205.9,375.5" fill="none" stroke="#000" stroke-width="2.7" stroke-dasharray="6.6 6.2"/>
<text x="2015.4" y="449.9" font-family="'Liberation Sans',sans-serif" font-size="40" stroke="#000" stroke-width="1.1" stroke-linejoin="round" font-weight="bold" text-anchor="middle">#</text>
<text x="2109.1" y="431.9" font-family="'Liberation Sans',sans-serif" font-size="40" stroke="#000" stroke-width="1.1" stroke-linejoin="round" font-weight="bold" text-anchor="middle">#</text>
<text x="2202.9" y="436.7" font-family="'Liberation Sans',sans-serif" font-size="40" stroke="#000" stroke-width="1.1" stroke-linejoin="round" font-weight="bold" text-anchor="middle">#</text>
<polygon points="1639.7,130.9 1649.7,149.3 1629.7,149.3" fill="#fff" stroke="#000" stroke-width="2" stroke-linejoin="miter"/>
<line x1="1612.1" y1="140.1" x2="1666.2" y2="140.1" stroke="#000" stroke-width="1.8"/>
<text x="1698.3" y="152.4" font-family="'Liberation Sans',sans-serif" font-size="34.4">HSD</text>
<polygon points="1639.7,170 1650.7,190 1628.7,190" fill="#000"/>
<line x1="1612.1" y1="180.5" x2="1666.2" y2="180.5" stroke="#000" stroke-width="2.7" stroke-dasharray="6.6 6.2"/>
<text x="1698.3" y="193.8" font-family="'Liberation Sans',sans-serif" font-size="34.4">HSD-S</text>
<text x="423.8" y="877.2" font-family="'DejaVu Sans Condensed','DejaVu Sans',sans-serif" font-size="71.5" font-weight="bold">D</text>
<line x1="489" y1="954.8" x2="489" y2="1397.1" stroke="#000" stroke-width="4.6"/>
<line x1="489" y1="1435.6" x2="489" y2="1468.3" stroke="#000" stroke-width="4.6"/>
<line x1="475.6" y1="967.6" x2="491.3" y2="967.6" stroke="#000" stroke-width="4.4"/>
<text x="468.8" y="980.4" font-family="'Liberation Sans',sans-serif" font-size="37.5" stroke="#000" stroke-width="1.6" stroke-linejoin="round" text-anchor="end">55</text>
<line x1="475.6" y1="1075" x2="491.3" y2="1075" stroke="#000" stroke-width="4.4"/>
<text x="468.8" y="1087.8" font-family="'Liberation Sans',sans-serif" font-size="37.5" stroke="#000" stroke-width="1.6" stroke-linejoin="round" text-anchor="end">45</text>
<line x1="475.6" y1="1182.4" x2="491.3" y2="1182.4" stroke="#000" stroke-width="4.4"/>
<text x="468.8" y="1195.2" font-family="'Liberation Sans',sans-serif" font-size="37.5" stroke="#000" stroke-width="1.6" stroke-linejoin="round" text-anchor="end">35</text>
<line x1="475.6" y1="1289.7" x2="491.3" y2="1289.7" stroke="#000" stroke-width="4.4"/>
<text x="468.8" y="1302.5" font-family="'Liberation Sans',sans-serif" font-size="37.5" stroke="#000" stroke-width="1.6" stroke-linejoin="round" text-anchor="end">25</text>
<line x1="475.6" y1="1397.1" x2="491.3" y2="1397.1" stroke="#000" stroke-width="4.4"/>
<line x1="475.6" y1="1397.1" x2="502.4" y2="1397.1" stroke="#000" stroke-width="4.4"/>
<line x1="475.6" y1="1435.6" x2="502.4" y2="1435.6" stroke="#000" stroke-width="4.4"/>
<text x="468.8" y="1409.9" font-family="'Liberation Sans',sans-serif" font-size="37.5" stroke="#000" stroke-width="1.6" stroke-linejoin="round" text-anchor="end">15</text>
<text x="468.8" y="1481.1" font-family="'Liberation Sans',sans-serif" font-size="37.5" stroke="#000" stroke-width="1.6" stroke-linejoin="round" text-anchor="end">0</text>
<line x1="475.8" y1="1468.3" x2="1146.5" y2="1468.3" stroke="#000" stroke-width="5"/>
<line x1="535.2" y1="1468.3" x2="535.2" y2="1482.6" stroke="#000" stroke-width="4.4"/>
<text x="536" y="1521.7" font-family="'Liberation Sans',sans-serif" font-size="37.5" stroke="#000" stroke-width="1.6" stroke-linejoin="round" text-anchor="middle">0</text>
<line x1="629.15" y1="1468.3" x2="629.15" y2="1482.6" stroke="#000" stroke-width="4.4"/>
<text x="629.95" y="1521.7" font-family="'Liberation Sans',sans-serif" font-size="37.5" stroke="#000" stroke-width="1.6" stroke-linejoin="round" text-anchor="middle">5</text>
<line x1="723.1" y1="1468.3" x2="723.1" y2="1482.6" stroke="#000" stroke-width="4.4"/>
<text x="723.9" y="1521.7" font-family="'Liberation Sans',sans-serif" font-size="37.5" stroke="#000" stroke-width="1.6" stroke-linejoin="round" text-anchor="middle">10</text>
<line x1="817.05" y1="1468.3" x2="817.05" y2="1482.6" stroke="#000" stroke-width="4.4"/>
<text x="817.85" y="1521.7" font-family="'Liberation Sans',sans-serif" font-size="37.5" stroke="#000" stroke-width="1.6" stroke-linejoin="round" text-anchor="middle">15</text>
<line x1="911" y1="1468.3" x2="911" y2="1482.6" stroke="#000" stroke-width="4.4"/>
<text x="911.8" y="1521.7" font-family="'Liberation Sans',sans-serif" font-size="37.5" stroke="#000" stroke-width="1.6" stroke-linejoin="round" text-anchor="middle">20</text>
<line x1="1004.95" y1="1468.3" x2="1004.95" y2="1482.6" stroke="#000" stroke-width="4.4"/>
<text x="1005.75" y="1521.7" font-family="'Liberation Sans',sans-serif" font-size="37.5" stroke="#000" stroke-width="1.6" stroke-linejoin="round" text-anchor="middle">25</text>
<line x1="1098.9" y1="1468.3" x2="1098.9" y2="1482.6" stroke="#000" stroke-width="4.4"/>
<text x="1099.7" y="1521.7" font-family="'Liberation Sans',sans-serif" font-size="37.5" stroke="#000" stroke-width="1.6" stroke-linejoin="round" text-anchor="middle">30</text>
<text x="816.5" y="1583" font-family="'Liberation Sans',sans-serif" font-size="42.8" font-weight="bold" text-anchor="middle">Weeks on diets</text>
<text x="400" y="1204.5" font-family="'Liberation Sans',sans-serif" font-size="42.8" transform="rotate(-90 400 1204.5)" font-weight="bold" text-anchor="middle">Body Weight [g]</text>
<line x1="540.2" y1="1331" x2="540.2" y2="1352" stroke="#000" stroke-width="2"/>
<line x1="529.6" y1="1331" x2="550.8" y2="1331" stroke="#000" stroke-width="2"/>
<line x1="529.6" y1="1352" x2="550.8" y2="1352" stroke="#000" stroke-width="2"/>
<line x1="634.15" y1="1195.6" x2="634.15" y2="1260" stroke="#000" stroke-width="2"/>
<line x1="623.55" y1="1195.6" x2="644.75" y2="1195.6" stroke="#000" stroke-width="2"/>
<line x1="623.55" y1="1260" x2="644.75" y2="1260" stroke="#000" stroke-width="2"/>
<line x1="728.1" y1="1098.8" x2="728.1" y2="1177.6" stroke="#000" stroke-width="2"/>
<line x1="717.5" y1="1098.8" x2="738.7" y2="1098.8" stroke="#000" stroke-width="2"/>
<line x1="717.5" y1="1177.6" x2="738.7" y2="1177.6" stroke="#000" stroke-width="2"/>
<line x1="822.05" y1="1035" x2="822.05" y2="1117.5" stroke="#000" stroke-width="2"/>
<line x1="811.45" y1="1035" x2="832.65" y2="1035" stroke="#000" stroke-width="2"/>
<line x1="811.45" y1="1117.5" x2="832.65" y2="1117.5" stroke="#000" stroke-width="2"/>
<line x1="916" y1="998.5" x2="916" y2="1091" stroke="#000" stroke-width="2"/>
<line x1="905.4" y1="998.5" x2="926.6" y2="998.5" stroke="#000" stroke-width="2"/>
<line x1="905.4" y1="1091" x2="926.6" y2="1091" stroke="#000" stroke-width="2"/>
<line x1="1009.95" y1="961.3" x2="1009.95" y2="1062.9" stroke="#000" stroke-width="2"/>
<line x1="999.35" y1="961.3" x2="1020.55" y2="961.3" stroke="#000" stroke-width="2"/>
<line x1="999.35" y1="1062.9" x2="1020.55" y2="1062.9" stroke="#000" stroke-width="2"/>
<line x1="1103.9" y1="984.6" x2="1103.9" y2="1083.1" stroke="#000" stroke-width="2"/>
<line x1="1093.3" y1="984.6" x2="1114.5" y2="984.6" stroke="#000" stroke-width="2"/>
<line x1="1093.3" y1="1083.1" x2="1114.5" y2="1083.1" stroke="#000" stroke-width="2"/>
<circle cx="540.2" cy="1341.3" r="9.9" fill="#fff" stroke="#000" stroke-width="2"/>
<circle cx="634.15" cy="1228.8" r="9.9" fill="#fff" stroke="#000" stroke-width="2"/>
<circle cx="728.1" cy="1139.1" r="9.9" fill="#fff" stroke="#000" stroke-width="2"/>
<circle cx="822.05" cy="1076.6" r="9.9" fill="#fff" stroke="#000" stroke-width="2"/>
<circle cx="916" cy="1044.9" r="9.9" fill="#fff" stroke="#000" stroke-width="2"/>
<circle cx="1009.95" cy="1011" r="9.9" fill="#fff" stroke="#000" stroke-width="2"/>
<circle cx="1103.9" cy="1033.8" r="9.9" fill="#fff" stroke="#000" stroke-width="2"/>
<polyline points="540.2,1341.3 634.15,1228.8 728.1,1139.1 822.05,1076.6 916,1044.9 1009.95,1011 1103.9,1033.8" fill="none" stroke="#000" stroke-width="1.8"/>
<line x1="540.2" y1="1322" x2="540.2" y2="1339" stroke="#000" stroke-width="2"/>
<line x1="529.6" y1="1322" x2="550.8" y2="1322" stroke="#000" stroke-width="2"/>
<line x1="529.6" y1="1339" x2="550.8" y2="1339" stroke="#000" stroke-width="2"/>
<line x1="634.15" y1="1163.7" x2="634.15" y2="1259.3" stroke="#000" stroke-width="2"/>
<line x1="623.55" y1="1163.7" x2="644.75" y2="1163.7" stroke="#000" stroke-width="2"/>
<line x1="623.55" y1="1259.3" x2="644.75" y2="1259.3" stroke="#000" stroke-width="2"/>
<line x1="728.1" y1="1049.7" x2="728.1" y2="1188.4" stroke="#000" stroke-width="2"/>
<line x1="717.5" y1="1049.7" x2="738.7" y2="1049.7" stroke="#000" stroke-width="2"/>
<line x1="717.5" y1="1188.4" x2="738.7" y2="1188.4" stroke="#000" stroke-width="2"/>
<line x1="822.05" y1="994.2" x2="822.05" y2="1135.5" stroke="#000" stroke-width="2"/>
<line x1="811.45" y1="994.2" x2="832.65" y2="994.2" stroke="#000" stroke-width="2"/>
<line x1="811.45" y1="1135.5" x2="832.65" y2="1135.5" stroke="#000" stroke-width="2"/>
<line x1="916" y1="981.7" x2="916" y2="1113.9" stroke="#000" stroke-width="2"/>
<line x1="905.4" y1="981.7" x2="926.6" y2="981.7" stroke="#000" stroke-width="2"/>
<line x1="905.4" y1="1113.9" x2="926.6" y2="1113.9" stroke="#000" stroke-width="2"/>
<line x1="1009.95" y1="968" x2="1009.95" y2="1084.6" stroke="#000" stroke-width="2"/>
<line x1="999.35" y1="968" x2="1020.55" y2="968" stroke="#000" stroke-width="2"/>
<line x1="999.35" y1="1084.6" x2="1020.55" y2="1084.6" stroke="#000" stroke-width="2"/>
<line x1="1103.9" y1="961.3" x2="1103.9" y2="1097.8" stroke="#000" stroke-width="2"/>
<line x1="1093.3" y1="961.3" x2="1114.5" y2="961.3" stroke="#000" stroke-width="2"/>
<line x1="1093.3" y1="1097.8" x2="1114.5" y2="1097.8" stroke="#000" stroke-width="2"/>
<circle cx="540.2" cy="1330.5" r="10.3" fill="#000"/>
<circle cx="634.15" cy="1211.3" r="10.3" fill="#000"/>
<circle cx="728.1" cy="1119.2" r="10.3" fill="#000"/>
<circle cx="822.05" cy="1064.6" r="10.3" fill="#000"/>
<circle cx="916" cy="1047.8" r="10.3" fill="#000"/>
<circle cx="1009.95" cy="1026.2" r="10.3" fill="#000"/>
<circle cx="1103.9" cy="1030.5" r="10.3" fill="#000"/>
<polyline points="540.2,1330.5 634.15,1211.3 728.1,1119.2 822.05,1064.6 916,1047.8 1009.95,1026.2 1103.9,1030.5" fill="none" stroke="#000" stroke-width="2.7" stroke-dasharray="6.6 6.2"/>
<circle cx="537.3" cy="967.3" r="9.9" fill="#fff" stroke="#000" stroke-width="2"/>
<line x1="509.2" y1="967.3" x2="565" y2="967.3" stroke="#000" stroke-width="1.8"/>
<text x="596" y="979.8" font-family="'Liberation Sans',sans-serif" font-size="34.4">HFD</text>
<circle cx="537.3" cy="1008.1" r="10.3" fill="#000"/>
<line x1="509.2" y1="1008.1" x2="565" y2="1008.1" stroke="#000" stroke-width="2.7" stroke-dasharray="6.6 6.2"/>
<text x="596" y="1020.1" font-family="'Liberation Sans',sans-serif" font-size="34.4">HFD-S</text>
<text x="1233.3" y="877" font-family="'DejaVu Sans Condensed','DejaVu Sans',sans-serif" font-size="71.5" font-weight="bold">E</text>
<line x1="1298.6" y1="954.4" x2="1298.6" y2="1397.4" stroke="#000" stroke-width="4.6"/>
<line x1="1298.6" y1="1436" x2="1298.6" y2="1468.3" stroke="#000" stroke-width="4.6"/>
<line x1="1283.2" y1="956.7" x2="1300.9" y2="956.7" stroke="#000" stroke-width="4.4"/>
<text x="1278.4" y="969.5" font-family="'Liberation Sans',sans-serif" font-size="37.5" stroke="#000" stroke-width="1.6" stroke-linejoin="round" text-anchor="end">60</text>
<line x1="1283.2" y1="1067.4" x2="1300.9" y2="1067.4" stroke="#000" stroke-width="4.4"/>
<text x="1278.4" y="1080.2" font-family="'Liberation Sans',sans-serif" font-size="37.5" stroke="#000" stroke-width="1.6" stroke-linejoin="round" text-anchor="end">50</text>
<line x1="1283.2" y1="1177.6" x2="1300.9" y2="1177.6" stroke="#000" stroke-width="4.4"/>
<text x="1278.4" y="1190.4" font-family="'Liberation Sans',sans-serif" font-size="37.5" stroke="#000" stroke-width="1.6" stroke-linejoin="round" text-anchor="end">40</text>
<line x1="1283.2" y1="1287.5" x2="1300.9" y2="1287.5" stroke="#000" stroke-width="4.4"/>
<text x="1278.4" y="1300.3" font-family="'Liberation Sans',sans-serif" font-size="37.5" stroke="#000" stroke-width="1.6" stroke-linejoin="round" text-anchor="end">30</text>
<line x1="1283.2" y1="1397.4" x2="1300.9" y2="1397.4" stroke="#000" stroke-width="4.4"/>
<line x1="1283.2" y1="1397.4" x2="1312" y2="1397.4" stroke="#000" stroke-width="4.4"/>
<line x1="1283.2" y1="1436" x2="1312" y2="1436" stroke="#000" stroke-width="4.4"/>
<text x="1278.4" y="1410.2" font-family="'Liberation Sans',sans-serif" font-size="37.5" stroke="#000" stroke-width="1.6" stroke-linejoin="round" text-anchor="end">20</text>
<text x="1278.4" y="1481.1" font-family="'Liberation Sans',sans-serif" font-size="37.5" stroke="#000" stroke-width="1.6" stroke-linejoin="round" text-anchor="end">0</text>
<line x1="1461.9" y1="1001" x2="1461.9" y2="1466" stroke="#000" stroke-width="2" stroke-dasharray="3 4.3"/>
<line x1="1637.7" y1="1001" x2="1637.7" y2="1466" stroke="#000" stroke-width="2" stroke-dasharray="3 4.3"/>
<line x1="1284.8" y1="1468.3" x2="1804" y2="1468.3" stroke="#000" stroke-width="5"/>
<line x1="1335.5" y1="1468.3" x2="1335.5" y2="1481.6" stroke="#000" stroke-width="4.4"/>
<line x1="1410.8" y1="1468.3" x2="1410.8" y2="1481.6" stroke="#000" stroke-width="4.4"/>
<line x1="1511.7" y1="1468.3" x2="1511.7" y2="1481.6" stroke="#000" stroke-width="4.4"/>
<line x1="1586.6" y1="1468.3" x2="1586.6" y2="1481.6" stroke="#000" stroke-width="4.4"/>
<line x1="1687.4" y1="1468.3" x2="1687.4" y2="1481.6" stroke="#000" stroke-width="4.4"/>
<line x1="1762.7" y1="1468.3" x2="1762.7" y2="1481.6" stroke="#000" stroke-width="4.4"/>
<text x="1347.8" y="1518.8" font-family="'Liberation Sans',sans-serif" font-size="38" transform="rotate(-45 1347.8 1518.8)" font-weight="bold" text-anchor="end">CD</text>
<text x="1423.1" y="1518.8" font-family="'Liberation Sans',sans-serif" font-size="38" transform="rotate(-45 1423.1 1518.8)" font-weight="bold" text-anchor="end">CD-S</text>
<text x="1524" y="1518.8" font-family="'Liberation Sans',sans-serif" font-size="38" transform="rotate(-45 1524 1518.8)" font-weight="bold" text-anchor="end">HSD</text>
<text x="1598.9" y="1518.8" font-family="'Liberation Sans',sans-serif" font-size="38" transform="rotate(-45 1598.9 1518.8)" font-weight="bold" text-anchor="end">HSD-S</text>
<text x="1699.7" y="1518.8" font-family="'Liberation Sans',sans-serif" font-size="38" transform="rotate(-45 1699.7 1518.8)" font-weight="bold" text-anchor="end">HFD</text>
<text x="1775" y="1518.8" font-family="'Liberation Sans',sans-serif" font-size="38" transform="rotate(-45 1775 1518.8)" font-weight="bold" text-anchor="end">HFD-S</text>
<rect x="1325.29" y="1147.4" width="20" height="20" fill="none" stroke="#000" stroke-width="2"/>
<rect x="1340.91" y="1169.04" width="20" height="20" fill="none" stroke="#000" stroke-width="2"/>
<rect x="1310.14" y="1173.37" width="20" height="20" fill="none" stroke="#000" stroke-width="2"/>
<rect x="1332.02" y="1181.78" width="20" height="20" fill="none" stroke="#000" stroke-width="2"/>
<rect x="1319.76" y="1195" width="20" height="20" fill="none" stroke="#000" stroke-width="2"/>
<rect x="1313.27" y="1214.23" width="20" height="20" fill="none" stroke="#000" stroke-width="2"/>
<rect x="1338.51" y="1227.45" width="20" height="20" fill="none" stroke="#000" stroke-width="2"/>
<rect x="1315.19" y="1236.59" width="20" height="20" fill="none" stroke="#000" stroke-width="2"/>
<rect x="1336.59" y="1237.07" width="20" height="20" fill="none" stroke="#000" stroke-width="2"/>
<rect x="1325.29" y="1259.9" width="20" height="20" fill="none" stroke="#000" stroke-width="2"/>
<line x1="1310.53" y1="1214.13" x2="1360.05" y2="1214.13" stroke="#000" stroke-width="4.4"/>
<rect x="1400.61" y="1178.25" width="20.8" height="20.8" fill="#000"/>
<rect x="1391.47" y="1223.93" width="20.8" height="20.8" fill="#000"/>
<rect x="1411.43" y="1223.93" width="20.8" height="20.8" fill="#000"/>
<rect x="1404.22" y="1235.47" width="20.8" height="20.8" fill="#000"/>
<rect x="1401.81" y="1246.28" width="20.8" height="20.8" fill="#000"/>
<rect x="1411.43" y="1265.51" width="20.8" height="20.8" fill="#000"/>
<rect x="1391.47" y="1282.34" width="20.8" height="20.8" fill="#000"/>
<rect x="1400.61" y="1289.55" width="20.8" height="20.8" fill="#000"/>
<rect x="1400.61" y="1333.54" width="20.8" height="20.8" fill="#000"/>
<line x1="1386.97" y1="1262.21" x2="1436.73" y2="1262.21" stroke="#000" stroke-width="4.4"/>
<polygon points="1511.97,1143.4 1521.97,1161.8 1501.97,1161.8" fill="none" stroke="#000" stroke-width="2" stroke-linejoin="miter"/>
<polygon points="1501.15,1174.17 1511.15,1192.57 1491.15,1192.57" fill="none" stroke="#000" stroke-width="2" stroke-linejoin="miter"/>
<polygon points="1522.31,1175.85 1532.31,1194.25 1512.31,1194.25" fill="none" stroke="#000" stroke-width="2" stroke-linejoin="miter"/>
<polygon points="1508.37,1186.67 1518.37,1205.07 1498.37,1205.07" fill="none" stroke="#000" stroke-width="2" stroke-linejoin="miter"/>
<polygon points="1516.78,1189.07 1526.78,1207.47 1506.78,1207.47" fill="none" stroke="#000" stroke-width="2" stroke-linejoin="miter"/>
<polygon points="1511.97,1192.19 1521.97,1210.59 1501.97,1210.59" fill="none" stroke="#000" stroke-width="2" stroke-linejoin="miter"/>
<polygon points="1511.97,1230.66 1521.97,1249.06 1501.97,1249.06" fill="none" stroke="#000" stroke-width="2" stroke-linejoin="miter"/>
<polygon points="1501.15,1242.67 1511.15,1261.08 1491.15,1261.08" fill="none" stroke="#000" stroke-width="2" stroke-linejoin="miter"/>
<polygon points="1522.31,1255.42 1532.31,1273.82 1512.31,1273.82" fill="none" stroke="#000" stroke-width="2" stroke-linejoin="miter"/>
<polygon points="1511.97,1263.11 1521.97,1281.51 1501.97,1281.51" fill="none" stroke="#000" stroke-width="2" stroke-linejoin="miter"/>
<line x1="1487.21" y1="1212.93" x2="1536.73" y2="1212.93" stroke="#000" stroke-width="4.4"/>
<polygon points="1576.88,1205.8 1587.88,1225.8 1565.88,1225.8" fill="#000"/>
<polygon points="1587.69,1216.13 1598.69,1236.13 1576.69,1236.13" fill="#000"/>
<polygon points="1597.79,1216.13 1608.79,1236.13 1586.79,1236.13" fill="#000"/>
<polygon points="1571.59,1232.96 1582.59,1252.96 1560.59,1252.96" fill="#000"/>
<polygon points="1603.32,1237.77 1614.32,1257.77 1592.32,1257.77" fill="#000"/>
<polygon points="1580.48,1254.12 1591.48,1274.12 1569.48,1274.12" fill="#000"/>
<polygon points="1592.5,1255.8 1603.5,1275.8 1581.5,1275.8" fill="#000"/>
<polygon points="1599.71,1267.82 1610.71,1287.82 1588.71,1287.82" fill="#000"/>
<polygon points="1574.47,1291.86 1585.47,1311.86 1563.47,1311.86" fill="#000"/>
<line x1="1561.73" y1="1251.15" x2="1612.93" y2="1251.15" stroke="#000" stroke-width="4.4"/>
<circle cx="1688.22" cy="1002.93" r="9.9" fill="none" stroke="#000" stroke-width="2"/>
<circle cx="1675" cy="1047.4" r="9.9" fill="none" stroke="#000" stroke-width="2"/>
<circle cx="1700.72" cy="1046.2" r="9.9" fill="none" stroke="#000" stroke-width="2"/>
<circle cx="1698.32" cy="1059.42" r="9.9" fill="none" stroke="#000" stroke-width="2"/>
<circle cx="1676.2" cy="1081.54" r="9.9" fill="none" stroke="#000" stroke-width="2"/>
<circle cx="1688.7" cy="1087.07" r="9.9" fill="none" stroke="#000" stroke-width="2"/>
<circle cx="1700.72" cy="1117.12" r="9.9" fill="none" stroke="#000" stroke-width="2"/>
<circle cx="1675" cy="1124.33" r="9.9" fill="none" stroke="#000" stroke-width="2"/>
<line x1="1662.26" y1="1070.72" x2="1713.46" y2="1070.72" stroke="#000" stroke-width="4.4"/>
<circle cx="1750.72" cy="986.11" r="10.3" fill="#000"/>
<circle cx="1789.18" cy="998.85" r="10.3" fill="#000"/>
<circle cx="1776.44" cy="1009.66" r="10.3" fill="#000"/>
<circle cx="1750.72" cy="1040.91" r="10.3" fill="#000"/>
<circle cx="1750.72" cy="1081.06" r="10.3" fill="#000"/>
<circle cx="1776.44" cy="1103.89" r="10.3" fill="#000"/>
<circle cx="1753.12" cy="1141.15" r="10.3" fill="#000"/>
<circle cx="1774.04" cy="1150.05" r="10.3" fill="#000"/>
<circle cx="1763.7" cy="1170.72" r="10.3" fill="#000"/>
<line x1="1739.18" y1="1076.25" x2="1788.46" y2="1076.25" stroke="#000" stroke-width="4.4"/>
<line x1="1338" y1="1000.5" x2="1413.8" y2="1000.5" stroke="#000" stroke-width="2.4"/>
<text x="1376.65" y="1003.5" font-family="'DejaVu Sans',sans-serif" font-size="30" stroke="#000" stroke-width="0.7" stroke-linejoin="round" letter-spacing="2.3" font-weight="bold" text-anchor="middle">*</text>
<line x1="1338" y1="954.4" x2="1689.5" y2="954.4" stroke="#5c5c5c" stroke-width="4.6"/>
<text x="1515.45" y="956.3" font-family="'DejaVu Sans',sans-serif" font-size="30" stroke="#000" stroke-width="0.7" stroke-linejoin="round" letter-spacing="2.3" font-weight="bold" text-anchor="middle">***</text>
<line x1="1413.8" y1="925.9" x2="1765.7" y2="925.9" stroke="#000" stroke-width="2.4"/>
<text x="1588.85" y="930.5" font-family="'DejaVu Sans',sans-serif" font-size="30" stroke="#000" stroke-width="0.7" stroke-linejoin="round" letter-spacing="2.3" font-weight="bold" text-anchor="middle">***</text>
<line x1="1514.3" y1="877.3" x2="1689.5" y2="877.3" stroke="#5c5c5c" stroke-width="4.6"/>
<text x="1602.85" y="881.8" font-family="'DejaVu Sans',sans-serif" font-size="30" stroke="#000" stroke-width="0.7" stroke-linejoin="round" letter-spacing="2.3" font-weight="bold" text-anchor="middle">***</text>
<line x1="1588.5" y1="849.2" x2="1765.7" y2="849.2" stroke="#000" stroke-width="2.4"/>
<text x="1678.25" y="852.8" font-family="'DejaVu Sans',sans-serif" font-size="30" stroke="#000" stroke-width="0.7" stroke-linejoin="round" letter-spacing="2.3" font-weight="bold" text-anchor="middle">***</text>
<text x="80" y="1687.3" font-family="'DejaVu Sans Condensed','DejaVu Sans',sans-serif" font-size="71.5" font-weight="bold">F</text>
<line x1="157.4" y1="1729.3" x2="157.4" y2="2172.4" stroke="#000" stroke-width="4.6"/>
<line x1="157.4" y1="2211.1" x2="157.4" y2="2243.1" stroke="#000" stroke-width="4.6"/>
<line x1="144" y1="1731.5" x2="159.7" y2="1731.5" stroke="#000" stroke-width="4.4"/>
<text x="137.2" y="1744.3" font-family="'Liberation Sans',sans-serif" font-size="37.5" stroke="#000" stroke-width="1.6" stroke-linejoin="round" text-anchor="end">125</text>
<line x1="144" y1="1842.2" x2="159.7" y2="1842.2" stroke="#000" stroke-width="4.4"/>
<text x="137.2" y="1855" font-family="'Liberation Sans',sans-serif" font-size="37.5" stroke="#000" stroke-width="1.6" stroke-linejoin="round" text-anchor="end">110</text>
<line x1="144" y1="1952.5" x2="159.7" y2="1952.5" stroke="#000" stroke-width="4.4"/>
<text x="137.2" y="1965.3" font-family="'Liberation Sans',sans-serif" font-size="37.5" stroke="#000" stroke-width="1.6" stroke-linejoin="round" text-anchor="end">95</text>
<line x1="144" y1="2062.3" x2="159.7" y2="2062.3" stroke="#000" stroke-width="4.4"/>
<text x="137.2" y="2075.1" font-family="'Liberation Sans',sans-serif" font-size="37.5" stroke="#000" stroke-width="1.6" stroke-linejoin="round" text-anchor="end">80</text>
<line x1="144" y1="2172.4" x2="159.7" y2="2172.4" stroke="#000" stroke-width="4.4"/>
<line x1="144" y1="2172.4" x2="170.8" y2="2172.4" stroke="#000" stroke-width="4.4"/>
<line x1="144" y1="2211.1" x2="170.8" y2="2211.1" stroke="#000" stroke-width="4.4"/>
<text x="137.2" y="2185.2" font-family="'Liberation Sans',sans-serif" font-size="37.5" stroke="#000" stroke-width="1.6" stroke-linejoin="round" text-anchor="end">65</text>
<text x="137.2" y="2255.9" font-family="'Liberation Sans',sans-serif" font-size="37.5" stroke="#000" stroke-width="1.6" stroke-linejoin="round" text-anchor="end">0</text>
<line x1="144.2" y1="2243.1" x2="803" y2="2243.1" stroke="#000" stroke-width="5"/>
<line x1="211.5" y1="2243.1" x2="211.5" y2="2257.4" stroke="#000" stroke-width="4.4"/>
<text x="212.3" y="2297.4" font-family="'Liberation Sans',sans-serif" font-size="37.5" stroke="#000" stroke-width="1.6" stroke-linejoin="round" text-anchor="middle">0-5</text>
<line x1="321" y1="2243.1" x2="321" y2="2257.4" stroke="#000" stroke-width="4.4"/>
<text x="321.8" y="2297.4" font-family="'Liberation Sans',sans-serif" font-size="37.5" stroke="#000" stroke-width="1.6" stroke-linejoin="round" text-anchor="middle">6-10</text>
<line x1="430.5" y1="2243.1" x2="430.5" y2="2257.4" stroke="#000" stroke-width="4.4"/>
<text x="431.3" y="2297.4" font-family="'Liberation Sans',sans-serif" font-size="37.5" stroke="#000" stroke-width="1.6" stroke-linejoin="round" text-anchor="middle">11-15</text>
<line x1="540" y1="2243.1" x2="540" y2="2257.4" stroke="#000" stroke-width="4.4"/>
<text x="540.8" y="2297.4" font-family="'Liberation Sans',sans-serif" font-size="37.5" stroke="#000" stroke-width="1.6" stroke-linejoin="round" text-anchor="middle">16-20</text>
<line x1="649.5" y1="2243.1" x2="649.5" y2="2257.4" stroke="#000" stroke-width="4.4"/>
<text x="650.3" y="2297.4" font-family="'Liberation Sans',sans-serif" font-size="37.5" stroke="#000" stroke-width="1.6" stroke-linejoin="round" text-anchor="middle">21-25</text>
<line x1="759" y1="2243.1" x2="759" y2="2257.4" stroke="#000" stroke-width="4.4"/>
<text x="759.8" y="2297.4" font-family="'Liberation Sans',sans-serif" font-size="37.5" stroke="#000" stroke-width="1.6" stroke-linejoin="round" text-anchor="middle">26-30</text>
<text x="484" y="2354" font-family="'Liberation Sans',sans-serif" font-size="42.8" font-weight="bold" text-anchor="middle">Weeks on diets</text>
<text x="46.5" y="1988.7" font-family="'Liberation Sans',sans-serif" font-size="42" transform="rotate(-90 46.5 1988.7)" font-weight="bold" text-anchor="middle">Calorie intake [kcal/week]</text>
<line x1="211.5" y1="2047.6" x2="211.5" y2="2143.8" stroke="#000" stroke-width="2"/>
<line x1="200.9" y1="2047.6" x2="222.1" y2="2047.6" stroke="#000" stroke-width="2"/>
<line x1="200.9" y1="2143.8" x2="222.1" y2="2143.8" stroke="#000" stroke-width="2"/>
<line x1="321" y1="2003.7" x2="321" y2="2118.6" stroke="#000" stroke-width="2"/>
<line x1="310.4" y1="2003.7" x2="331.6" y2="2003.7" stroke="#000" stroke-width="2"/>
<line x1="310.4" y1="2118.6" x2="331.6" y2="2118.6" stroke="#000" stroke-width="2"/>
<line x1="430.5" y1="2013.3" x2="430.5" y2="2101.5" stroke="#000" stroke-width="2"/>
<line x1="419.9" y1="2013.3" x2="441.1" y2="2013.3" stroke="#000" stroke-width="2"/>
<line x1="419.9" y1="2101.5" x2="441.1" y2="2101.5" stroke="#000" stroke-width="2"/>
<line x1="540" y1="2043" x2="540" y2="2123.3" stroke="#000" stroke-width="2"/>
<line x1="529.4" y1="2043" x2="550.6" y2="2043" stroke="#000" stroke-width="2"/>
<line x1="529.4" y1="2123.3" x2="550.6" y2="2123.3" stroke="#000" stroke-width="2"/>
<line x1="649.5" y1="2005" x2="649.5" y2="2082" stroke="#000" stroke-width="2"/>
<line x1="638.9" y1="2005" x2="660.1" y2="2005" stroke="#000" stroke-width="2"/>
<line x1="638.9" y1="2082" x2="660.1" y2="2082" stroke="#000" stroke-width="2"/>
<line x1="759" y1="2009.5" x2="759" y2="2085.7" stroke="#000" stroke-width="2"/>
<line x1="748.4" y1="2009.5" x2="769.6" y2="2009.5" stroke="#000" stroke-width="2"/>
<line x1="748.4" y1="2085.7" x2="769.6" y2="2085.7" stroke="#000" stroke-width="2"/>
<rect x="201.5" y="2085.7" width="20" height="20" fill="#fff" stroke="#000" stroke-width="2"/>
<rect x="311" y="2049.5" width="20" height="20" fill="#fff" stroke="#000" stroke-width="2"/>
<rect x="420.5" y="2047.3" width="20" height="20" fill="#fff" stroke="#000" stroke-width="2"/>
<rect x="530" y="2074.6" width="20" height="20" fill="#fff" stroke="#000" stroke-width="2"/>
<rect x="639.5" y="2033.5" width="20" height="20" fill="#fff" stroke="#000" stroke-width="2"/>
<rect x="749" y="2037.5" width="20" height="20" fill="#fff" stroke="#000" stroke-width="2"/>
<polyline points="211.5,2095.7 321,2059.5 430.5,2057.3 540,2084.6 649.5,2043.5 759,2047.5" fill="none" stroke="#000" stroke-width="1.8"/>
<line x1="217.5" y1="1950.8" x2="217.5" y2="2024.1" stroke="#000" stroke-width="2"/>
<line x1="206.9" y1="1950.8" x2="228.1" y2="1950.8" stroke="#000" stroke-width="2"/>
<line x1="206.9" y1="2024.1" x2="228.1" y2="2024.1" stroke="#000" stroke-width="2"/>
<line x1="327" y1="1943.6" x2="327" y2="2058" stroke="#000" stroke-width="2"/>
<line x1="316.4" y1="1943.6" x2="337.6" y2="1943.6" stroke="#000" stroke-width="2"/>
<line x1="316.4" y1="2058" x2="337.6" y2="2058" stroke="#000" stroke-width="2"/>
<line x1="436.5" y1="1895" x2="436.5" y2="2022" stroke="#000" stroke-width="2"/>
<line x1="425.9" y1="1895" x2="447.1" y2="1895" stroke="#000" stroke-width="2"/>
<line x1="425.9" y1="2022" x2="447.1" y2="2022" stroke="#000" stroke-width="2"/>
<line x1="546" y1="1985.8" x2="546" y2="2062.2" stroke="#000" stroke-width="2"/>
<line x1="535.4" y1="1985.8" x2="556.6" y2="1985.8" stroke="#000" stroke-width="2"/>
<line x1="535.4" y1="2062.2" x2="556.6" y2="2062.2" stroke="#000" stroke-width="2"/>
<line x1="655.5" y1="1894.1" x2="655.5" y2="1983.3" stroke="#000" stroke-width="2"/>
<line x1="644.9" y1="1894.1" x2="666.1" y2="1894.1" stroke="#000" stroke-width="2"/>
<line x1="644.9" y1="1983.3" x2="666.1" y2="1983.3" stroke="#000" stroke-width="2"/>
<line x1="765" y1="1922" x2="765" y2="2023" stroke="#000" stroke-width="2"/>
<line x1="754.4" y1="1922" x2="775.6" y2="1922" stroke="#000" stroke-width="2"/>
<line x1="754.4" y1="2023" x2="775.6" y2="2023" stroke="#000" stroke-width="2"/>
<polygon points="217.5,1978.8 227.5,1997.2 207.5,1997.2" fill="#fff" stroke="#000" stroke-width="2" stroke-linejoin="miter"/>
<polygon points="327,1992.2 337,2010.6 317,2010.6" fill="#fff" stroke="#000" stroke-width="2" stroke-linejoin="miter"/>
<polygon points="436.5,1951.3 446.5,1969.7 426.5,1969.7" fill="#fff" stroke="#000" stroke-width="2" stroke-linejoin="miter"/>
<polygon points="546,2016.1 556,2034.5 536,2034.5" fill="#fff" stroke="#000" stroke-width="2" stroke-linejoin="miter"/>
<polygon points="655.5,1929.5 665.5,1947.9 645.5,1947.9" fill="#fff" stroke="#000" stroke-width="2" stroke-linejoin="miter"/>
<polygon points="765,1963.4 775,1981.8 755,1981.8" fill="#fff" stroke="#000" stroke-width="2" stroke-linejoin="miter"/>
<polyline points="217.5,1988 327,2001.4 436.5,1960.5 546,2025.3 655.5,1938.7 765,1972.6" fill="none" stroke="#000" stroke-width="1.8"/>
<line x1="222.5" y1="1812.1" x2="222.5" y2="1922.6" stroke="#000" stroke-width="2"/>
<line x1="211.9" y1="1812.1" x2="233.1" y2="1812.1" stroke="#000" stroke-width="2"/>
<line x1="211.9" y1="1922.6" x2="233.1" y2="1922.6" stroke="#000" stroke-width="2"/>
<line x1="332" y1="1869.8" x2="332" y2="1972.4" stroke="#000" stroke-width="2"/>
<line x1="321.4" y1="1869.8" x2="342.6" y2="1869.8" stroke="#000" stroke-width="2"/>
<line x1="321.4" y1="1972.4" x2="342.6" y2="1972.4" stroke="#000" stroke-width="2"/>
<line x1="441.5" y1="1837.1" x2="441.5" y2="1942.4" stroke="#000" stroke-width="2"/>
<line x1="430.9" y1="1837.1" x2="452.1" y2="1837.1" stroke="#000" stroke-width="2"/>
<line x1="430.9" y1="1942.4" x2="452.1" y2="1942.4" stroke="#000" stroke-width="2"/>
<line x1="551" y1="1822.2" x2="551" y2="1985.6" stroke="#000" stroke-width="2"/>
<line x1="540.4" y1="1822.2" x2="561.6" y2="1822.2" stroke="#000" stroke-width="2"/>
<line x1="540.4" y1="1985.6" x2="561.6" y2="1985.6" stroke="#000" stroke-width="2"/>
<line x1="660.5" y1="1846.7" x2="660.5" y2="1968.3" stroke="#000" stroke-width="2"/>
<line x1="649.9" y1="1846.7" x2="671.1" y2="1846.7" stroke="#000" stroke-width="2"/>
<line x1="649.9" y1="1968.3" x2="671.1" y2="1968.3" stroke="#000" stroke-width="2"/>
<line x1="770" y1="1786.6" x2="770" y2="2081.8" stroke="#000" stroke-width="2"/>
<line x1="759.4" y1="1786.6" x2="780.6" y2="1786.6" stroke="#000" stroke-width="2"/>
<line x1="759.4" y1="2081.8" x2="780.6" y2="2081.8" stroke="#000" stroke-width="2"/>
<circle cx="222.5" cy="1867.1" r="9.9" fill="#fff" stroke="#000" stroke-width="2"/>
<circle cx="332" cy="1920.7" r="9.9" fill="#fff" stroke="#000" stroke-width="2"/>
<circle cx="441.5" cy="1890" r="9.9" fill="#fff" stroke="#000" stroke-width="2"/>
<circle cx="551" cy="1903.9" r="9.9" fill="#fff" stroke="#000" stroke-width="2"/>
<circle cx="660.5" cy="1907" r="9.9" fill="#fff" stroke="#000" stroke-width="2"/>
<circle cx="770" cy="1933.5" r="9.9" fill="#fff" stroke="#000" stroke-width="2"/>
<polyline points="222.5,1867.1 332,1920.7 441.5,1890 551,1903.9 660.5,1907 770,1933.5" fill="none" stroke="#000" stroke-width="1.8"/>
<text x="222.5" y="1819.87" font-family="'DejaVu Sans',sans-serif" font-size="43" stroke="#000" stroke-width="1" stroke-linejoin="round" text-anchor="middle">*</text>
<text x="331.6" y="1875.67" font-family="'DejaVu Sans',sans-serif" font-size="43" stroke="#000" stroke-width="1" stroke-linejoin="round" text-anchor="middle">*</text>
<text x="441.2" y="1844.47" font-family="'DejaVu Sans',sans-serif" font-size="43" stroke="#000" stroke-width="1" stroke-linejoin="round" text-anchor="middle">*</text>
<text x="551.7" y="1828.77" font-family="'DejaVu Sans',sans-serif" font-size="43" stroke="#000" stroke-width="1" stroke-linejoin="round" text-anchor="middle">*</text>
<text x="660.4" y="1853.57" font-family="'DejaVu Sans',sans-serif" font-size="43" stroke="#000" stroke-width="1" stroke-linejoin="round" text-anchor="middle">*</text>
<text x="768.8" y="1795.17" font-family="'DejaVu Sans',sans-serif" font-size="43" stroke="#000" stroke-width="1" stroke-linejoin="round" text-anchor="middle">*</text>
<text x="202" y="1986.27" font-family="'DejaVu Sans',sans-serif" font-size="43" stroke="#000" stroke-width="1" stroke-linejoin="round" text-anchor="middle">*</text>
<text x="310.2" y="2002.37" font-family="'DejaVu Sans',sans-serif" font-size="43" stroke="#000" stroke-width="1" stroke-linejoin="round" text-anchor="middle">*</text>
<text x="420" y="1962.27" font-family="'DejaVu Sans',sans-serif" font-size="43" stroke="#000" stroke-width="1" stroke-linejoin="round" text-anchor="middle">*</text>
<text x="533" y="2024.77" font-family="'DejaVu Sans',sans-serif" font-size="43" stroke="#000" stroke-width="1" stroke-linejoin="round" text-anchor="middle">*</text>
<text x="639.5" y="1941.07" font-family="'DejaVu Sans',sans-serif" font-size="43" stroke="#000" stroke-width="1" stroke-linejoin="round" text-anchor="middle">*</text>
<text x="750" y="1975.47" font-family="'DejaVu Sans',sans-serif" font-size="43" stroke="#000" stroke-width="1" stroke-linejoin="round" text-anchor="middle">*</text>
<text x="802" y="1687" font-family="'DejaVu Sans Condensed','DejaVu Sans',sans-serif" font-size="71.5" font-weight="bold">G</text>
<line x1="889.8" y1="1728.8" x2="889.8" y2="2172" stroke="#000" stroke-width="4.6"/>
<line x1="889.8" y1="2211.5" x2="889.8" y2="2243" stroke="#000" stroke-width="4.6"/>
<line x1="876.4" y1="1731" x2="892.1" y2="1731" stroke="#000" stroke-width="4.4"/>
<text x="869.6" y="1743.8" font-family="'Liberation Sans',sans-serif" font-size="37.5" stroke="#000" stroke-width="1.6" stroke-linejoin="round" text-anchor="end">125</text>
<line x1="876.4" y1="1841.4" x2="892.1" y2="1841.4" stroke="#000" stroke-width="4.4"/>
<text x="869.6" y="1854.2" font-family="'Liberation Sans',sans-serif" font-size="37.5" stroke="#000" stroke-width="1.6" stroke-linejoin="round" text-anchor="end">110</text>
<line x1="876.4" y1="1952" x2="892.1" y2="1952" stroke="#000" stroke-width="4.4"/>
<text x="869.6" y="1964.8" font-family="'Liberation Sans',sans-serif" font-size="37.5" stroke="#000" stroke-width="1.6" stroke-linejoin="round" text-anchor="end">95</text>
<line x1="876.4" y1="2062.4" x2="892.1" y2="2062.4" stroke="#000" stroke-width="4.4"/>
<text x="869.6" y="2075.2" font-family="'Liberation Sans',sans-serif" font-size="37.5" stroke="#000" stroke-width="1.6" stroke-linejoin="round" text-anchor="end">80</text>
<line x1="876.4" y1="2172" x2="892.1" y2="2172" stroke="#000" stroke-width="4.4"/>
<line x1="876.4" y1="2172" x2="903.2" y2="2172" stroke="#000" stroke-width="4.4"/>
<line x1="876.4" y1="2211.5" x2="903.2" y2="2211.5" stroke="#000" stroke-width="4.4"/>
<text x="869.6" y="2184.8" font-family="'Liberation Sans',sans-serif" font-size="37.5" stroke="#000" stroke-width="1.6" stroke-linejoin="round" text-anchor="end">65</text>
<text x="869.6" y="2255.8" font-family="'Liberation Sans',sans-serif" font-size="37.5" stroke="#000" stroke-width="1.6" stroke-linejoin="round" text-anchor="end">0</text>
<line x1="876" y1="2243" x2="1541" y2="2243" stroke="#000" stroke-width="5"/>
<line x1="943.5" y1="2243" x2="943.5" y2="2257.3" stroke="#000" stroke-width="4.4"/>
<text x="944.3" y="2297.3" font-family="'Liberation Sans',sans-serif" font-size="37.5" stroke="#000" stroke-width="1.6" stroke-linejoin="round" text-anchor="middle">0-5</text>
<line x1="1052.8" y1="2243" x2="1052.8" y2="2257.3" stroke="#000" stroke-width="4.4"/>
<text x="1053.6" y="2297.3" font-family="'Liberation Sans',sans-serif" font-size="37.5" stroke="#000" stroke-width="1.6" stroke-linejoin="round" text-anchor="middle">6-10</text>
<line x1="1162.1" y1="2243" x2="1162.1" y2="2257.3" stroke="#000" stroke-width="4.4"/>
<text x="1162.9" y="2297.3" font-family="'Liberation Sans',sans-serif" font-size="37.5" stroke="#000" stroke-width="1.6" stroke-linejoin="round" text-anchor="middle">11-15</text>
<line x1="1271.4" y1="2243" x2="1271.4" y2="2257.3" stroke="#000" stroke-width="4.4"/>
<text x="1272.2" y="2297.3" font-family="'Liberation Sans',sans-serif" font-size="37.5" stroke="#000" stroke-width="1.6" stroke-linejoin="round" text-anchor="middle">16-20</text>
<line x1="1380.7" y1="2243" x2="1380.7" y2="2257.3" stroke="#000" stroke-width="4.4"/>
<text x="1381.5" y="2297.3" font-family="'Liberation Sans',sans-serif" font-size="37.5" stroke="#000" stroke-width="1.6" stroke-linejoin="round" text-anchor="middle">21-25</text>
<line x1="1490" y1="2243" x2="1490" y2="2257.3" stroke="#000" stroke-width="4.4"/>
<text x="1490.8" y="2297.3" font-family="'Liberation Sans',sans-serif" font-size="37.5" stroke="#000" stroke-width="1.6" stroke-linejoin="round" text-anchor="middle">26-30</text>
<text x="1216" y="2354" font-family="'Liberation Sans',sans-serif" font-size="42.8" font-weight="bold" text-anchor="middle">Weeks on diets</text>
<line x1="943.5" y1="2047.7" x2="943.5" y2="2143.4" stroke="#000" stroke-width="2"/>
<line x1="932.9" y1="2047.7" x2="954.1" y2="2047.7" stroke="#000" stroke-width="2"/>
<line x1="932.9" y1="2143.4" x2="954.1" y2="2143.4" stroke="#000" stroke-width="2"/>
<line x1="1052.8" y1="2003.4" x2="1052.8" y2="2115" stroke="#000" stroke-width="2"/>
<line x1="1042.2" y1="2003.4" x2="1063.4" y2="2003.4" stroke="#000" stroke-width="2"/>
<line x1="1042.2" y1="2115" x2="1063.4" y2="2115" stroke="#000" stroke-width="2"/>
<line x1="1162.1" y1="2013.3" x2="1162.1" y2="2101.6" stroke="#000" stroke-width="2"/>
<line x1="1151.5" y1="2013.3" x2="1172.7" y2="2013.3" stroke="#000" stroke-width="2"/>
<line x1="1151.5" y1="2101.6" x2="1172.7" y2="2101.6" stroke="#000" stroke-width="2"/>
<line x1="1271.4" y1="2043.4" x2="1271.4" y2="2123.6" stroke="#000" stroke-width="2"/>
<line x1="1260.8" y1="2043.4" x2="1282" y2="2043.4" stroke="#000" stroke-width="2"/>
<line x1="1260.8" y1="2123.6" x2="1282" y2="2123.6" stroke="#000" stroke-width="2"/>
<line x1="1380.7" y1="2007" x2="1380.7" y2="2081.9" stroke="#000" stroke-width="2"/>
<line x1="1370.1" y1="2007" x2="1391.3" y2="2007" stroke="#000" stroke-width="2"/>
<line x1="1370.1" y1="2081.9" x2="1391.3" y2="2081.9" stroke="#000" stroke-width="2"/>
<line x1="1490" y1="2009.3" x2="1490" y2="2085.6" stroke="#000" stroke-width="2"/>
<line x1="1479.4" y1="2009.3" x2="1500.6" y2="2009.3" stroke="#000" stroke-width="2"/>
<line x1="1479.4" y1="2085.6" x2="1500.6" y2="2085.6" stroke="#000" stroke-width="2"/>
<rect x="933.5" y="2085.7" width="20" height="20" fill="#fff" stroke="#000" stroke-width="2"/>
<rect x="1042.8" y="2049.2" width="20" height="20" fill="#fff" stroke="#000" stroke-width="2"/>
<rect x="1152.1" y="2047.3" width="20" height="20" fill="#fff" stroke="#000" stroke-width="2"/>
<rect x="1261.4" y="2074.6" width="20" height="20" fill="#fff" stroke="#000" stroke-width="2"/>
<rect x="1370.7" y="2034.5" width="20" height="20" fill="#fff" stroke="#000" stroke-width="2"/>
<rect x="1480" y="2037.8" width="20" height="20" fill="#fff" stroke="#000" stroke-width="2"/>
<polyline points="943.5,2095.7 1052.8,2059.2 1162.1,2057.3 1271.4,2084.6 1380.7,2044.5 1490,2047.8" fill="none" stroke="#000" stroke-width="1.8"/>
<line x1="943.5" y1="2006.5" x2="943.5" y2="2070.9" stroke="#000" stroke-width="2"/>
<line x1="932.9" y1="2006.5" x2="954.1" y2="2006.5" stroke="#000" stroke-width="2"/>
<line x1="932.9" y1="2070.9" x2="954.1" y2="2070.9" stroke="#000" stroke-width="2"/>
<line x1="1052.8" y1="2045" x2="1052.8" y2="2119.2" stroke="#000" stroke-width="2"/>
<line x1="1042.2" y1="2045" x2="1063.4" y2="2045" stroke="#000" stroke-width="2"/>
<line x1="1042.2" y1="2119.2" x2="1063.4" y2="2119.2" stroke="#000" stroke-width="2"/>
<line x1="1162.1" y1="2035" x2="1162.1" y2="2110.4" stroke="#000" stroke-width="2"/>
<line x1="1151.5" y1="2035" x2="1172.7" y2="2035" stroke="#000" stroke-width="2"/>
<line x1="1151.5" y1="2110.4" x2="1172.7" y2="2110.4" stroke="#000" stroke-width="2"/>
<line x1="1271.4" y1="2029.6" x2="1271.4" y2="2130.7" stroke="#000" stroke-width="2"/>
<line x1="1260.8" y1="2029.6" x2="1282" y2="2029.6" stroke="#000" stroke-width="2"/>
<line x1="1260.8" y1="2130.7" x2="1282" y2="2130.7" stroke="#000" stroke-width="2"/>
<line x1="1380.7" y1="2005.3" x2="1380.7" y2="2112" stroke="#000" stroke-width="2"/>
<line x1="1370.1" y1="2005.3" x2="1391.3" y2="2005.3" stroke="#000" stroke-width="2"/>
<line x1="1370.1" y1="2112" x2="1391.3" y2="2112" stroke="#000" stroke-width="2"/>
<line x1="1490" y1="2069.3" x2="1490" y2="2166.5" stroke="#000" stroke-width="2"/>
<line x1="1479.4" y1="2069.3" x2="1500.6" y2="2069.3" stroke="#000" stroke-width="2"/>
<line x1="1479.4" y1="2166.5" x2="1500.6" y2="2166.5" stroke="#000" stroke-width="2"/>
<rect x="933.1" y="2027.5" width="20.8" height="20.8" fill="#000"/>
<rect x="1042.4" y="2071.5" width="20.8" height="20.8" fill="#000"/>
<rect x="1151.7" y="2061.6" width="20.8" height="20.8" fill="#000"/>
<rect x="1261" y="2069.7" width="20.8" height="20.8" fill="#000"/>
<rect x="1370.3" y="2048.4" width="20.8" height="20.8" fill="#000"/>
<rect x="1479.6" y="2107.1" width="20.8" height="20.8" fill="#000"/>
<polyline points="943.5,2037.9 1052.8,2081.9 1162.1,2072 1271.4,2080.1 1380.7,2058.8 1490,2117.5" fill="none" stroke="#000" stroke-width="2.7" stroke-dasharray="6.6 6.2"/>
<text x="946.2" y="1998.8" font-family="'Liberation Sans',sans-serif" font-size="40" stroke="#000" stroke-width="1.1" stroke-linejoin="round" font-weight="bold" text-anchor="middle">#</text>
<text x="1488.6" y="2199.9" font-family="'Liberation Sans',sans-serif" font-size="40" stroke="#000" stroke-width="1.1" stroke-linejoin="round" font-weight="bold" text-anchor="middle">#</text>
<text x="1539" y="1687" font-family="'DejaVu Sans Condensed','DejaVu Sans',sans-serif" font-size="71.5" font-weight="bold">H</text>
<line x1="1627" y1="1727.5" x2="1627" y2="2170" stroke="#000" stroke-width="4.6"/>
<line x1="1627" y1="2208.8" x2="1627" y2="2240.7" stroke="#000" stroke-width="4.6"/>
<line x1="1613.6" y1="1729.7" x2="1629.3" y2="1729.7" stroke="#000" stroke-width="4.4"/>
<text x="1606.8" y="1742.5" font-family="'Liberation Sans',sans-serif" font-size="37.5" stroke="#000" stroke-width="1.6" stroke-linejoin="round" text-anchor="end">125</text>
<line x1="1613.6" y1="1840.4" x2="1629.3" y2="1840.4" stroke="#000" stroke-width="4.4"/>
<text x="1606.8" y="1853.2" font-family="'Liberation Sans',sans-serif" font-size="37.5" stroke="#000" stroke-width="1.6" stroke-linejoin="round" text-anchor="end">110</text>
<line x1="1613.6" y1="1950.7" x2="1629.3" y2="1950.7" stroke="#000" stroke-width="4.4"/>
<text x="1606.8" y="1963.5" font-family="'Liberation Sans',sans-serif" font-size="37.5" stroke="#000" stroke-width="1.6" stroke-linejoin="round" text-anchor="end">95</text>
<line x1="1613.6" y1="2060.9" x2="1629.3" y2="2060.9" stroke="#000" stroke-width="4.4"/>
<text x="1606.8" y="2073.7" font-family="'Liberation Sans',sans-serif" font-size="37.5" stroke="#000" stroke-width="1.6" stroke-linejoin="round" text-anchor="end">80</text>
<line x1="1613.6" y1="2170" x2="1629.3" y2="2170" stroke="#000" stroke-width="4.4"/>
<line x1="1613.6" y1="2170" x2="1640.4" y2="2170" stroke="#000" stroke-width="4.4"/>
<line x1="1613.6" y1="2208.8" x2="1640.4" y2="2208.8" stroke="#000" stroke-width="4.4"/>
<text x="1606.8" y="2182.8" font-family="'Liberation Sans',sans-serif" font-size="37.5" stroke="#000" stroke-width="1.6" stroke-linejoin="round" text-anchor="end">65</text>
<text x="1606.8" y="2253.5" font-family="'Liberation Sans',sans-serif" font-size="37.5" stroke="#000" stroke-width="1.6" stroke-linejoin="round" text-anchor="end">0</text>
<line x1="1613" y1="2240.7" x2="2285.5" y2="2240.7" stroke="#000" stroke-width="5"/>
<line x1="1681.6" y1="2240.7" x2="1681.6" y2="2255" stroke="#000" stroke-width="4.4"/>
<text x="1682.4" y="2295" font-family="'Liberation Sans',sans-serif" font-size="37.5" stroke="#000" stroke-width="1.6" stroke-linejoin="round" text-anchor="middle">0-5</text>
<line x1="1790.87" y1="2240.7" x2="1790.87" y2="2255" stroke="#000" stroke-width="4.4"/>
<text x="1791.67" y="2295" font-family="'Liberation Sans',sans-serif" font-size="37.5" stroke="#000" stroke-width="1.6" stroke-linejoin="round" text-anchor="middle">6-10</text>
<line x1="1900.14" y1="2240.7" x2="1900.14" y2="2255" stroke="#000" stroke-width="4.4"/>
<text x="1900.94" y="2295" font-family="'Liberation Sans',sans-serif" font-size="37.5" stroke="#000" stroke-width="1.6" stroke-linejoin="round" text-anchor="middle">11-15</text>
<line x1="2009.41" y1="2240.7" x2="2009.41" y2="2255" stroke="#000" stroke-width="4.4"/>
<text x="2010.21" y="2295" font-family="'Liberation Sans',sans-serif" font-size="37.5" stroke="#000" stroke-width="1.6" stroke-linejoin="round" text-anchor="middle">16-20</text>
<line x1="2118.68" y1="2240.7" x2="2118.68" y2="2255" stroke="#000" stroke-width="4.4"/>
<text x="2119.48" y="2295" font-family="'Liberation Sans',sans-serif" font-size="37.5" stroke="#000" stroke-width="1.6" stroke-linejoin="round" text-anchor="middle">21-25</text>
<line x1="2227.95" y1="2240.7" x2="2227.95" y2="2255" stroke="#000" stroke-width="4.4"/>
<text x="2228.75" y="2295" font-family="'Liberation Sans',sans-serif" font-size="37.5" stroke="#000" stroke-width="1.6" stroke-linejoin="round" text-anchor="middle">26-30</text>
<text x="1954" y="2353" font-family="'Liberation Sans',sans-serif" font-size="42.8" font-weight="bold" text-anchor="middle">Weeks on diets</text>
<line x1="1686.6" y1="1949" x2="1686.6" y2="2022" stroke="#000" stroke-width="2"/>
<line x1="1676" y1="1949" x2="1697.2" y2="1949" stroke="#000" stroke-width="2"/>
<line x1="1676" y1="2022" x2="1697.2" y2="2022" stroke="#000" stroke-width="2"/>
<line x1="1795.6" y1="1941.8" x2="1795.6" y2="2056.5" stroke="#000" stroke-width="2"/>
<line x1="1785" y1="1941.8" x2="1806.2" y2="1941.8" stroke="#000" stroke-width="2"/>
<line x1="1785" y1="2056.5" x2="1806.2" y2="2056.5" stroke="#000" stroke-width="2"/>
<line x1="1905.5" y1="1893.2" x2="1905.5" y2="2020.2" stroke="#000" stroke-width="2"/>
<line x1="1894.9" y1="1893.2" x2="1916.1" y2="1893.2" stroke="#000" stroke-width="2"/>
<line x1="1894.9" y1="2020.2" x2="1916.1" y2="2020.2" stroke="#000" stroke-width="2"/>
<line x1="2014.5" y1="1984" x2="2014.5" y2="2060.4" stroke="#000" stroke-width="2"/>
<line x1="2003.9" y1="1984" x2="2025.1" y2="1984" stroke="#000" stroke-width="2"/>
<line x1="2003.9" y1="2060.4" x2="2025.1" y2="2060.4" stroke="#000" stroke-width="2"/>
<line x1="2123.3" y1="1892.3" x2="2123.3" y2="1981.5" stroke="#000" stroke-width="2"/>
<line x1="2112.7" y1="1892.3" x2="2133.9" y2="1892.3" stroke="#000" stroke-width="2"/>
<line x1="2112.7" y1="1981.5" x2="2133.9" y2="1981.5" stroke="#000" stroke-width="2"/>
<line x1="2233.2" y1="1920.2" x2="2233.2" y2="2021.4" stroke="#000" stroke-width="2"/>
<line x1="2222.6" y1="1920.2" x2="2243.8" y2="1920.2" stroke="#000" stroke-width="2"/>
<line x1="2222.6" y1="2021.4" x2="2243.8" y2="2021.4" stroke="#000" stroke-width="2"/>
<polygon points="1686.6,1976.3 1696.6,1994.7 1676.6,1994.7" fill="#fff" stroke="#000" stroke-width="2" stroke-linejoin="miter"/>
<polygon points="1795.6,1990.4 1805.6,2008.8 1785.6,2008.8" fill="#fff" stroke="#000" stroke-width="2" stroke-linejoin="miter"/>
<polygon points="1905.5,1949.5 1915.5,1967.9 1895.5,1967.9" fill="#fff" stroke="#000" stroke-width="2" stroke-linejoin="miter"/>
<polygon points="2014.5,2014.3 2024.5,2032.7 2004.5,2032.7" fill="#fff" stroke="#000" stroke-width="2" stroke-linejoin="miter"/>
<polygon points="2123.3,1927.7 2133.3,1946.1 2113.3,1946.1" fill="#fff" stroke="#000" stroke-width="2" stroke-linejoin="miter"/>
<polygon points="2233.2,1961.6 2243.2,1980 2223.2,1980" fill="#fff" stroke="#000" stroke-width="2" stroke-linejoin="miter"/>
<polyline points="1686.6,1985.5 1795.6,1999.6 1905.5,1958.7 2014.5,2023.5 2123.3,1936.9 2233.2,1970.8" fill="none" stroke="#000" stroke-width="1.8"/>
<line x1="1686.6" y1="1897.6" x2="1686.6" y2="1990.4" stroke="#000" stroke-width="2"/>
<line x1="1676" y1="1897.6" x2="1697.2" y2="1897.6" stroke="#000" stroke-width="2"/>
<line x1="1676" y1="1990.4" x2="1697.2" y2="1990.4" stroke="#000" stroke-width="2"/>
<line x1="1795.6" y1="2011" x2="1795.6" y2="2052.7" stroke="#000" stroke-width="2"/>
<line x1="1785" y1="2011" x2="1806.2" y2="2011" stroke="#000" stroke-width="2"/>
<line x1="1785" y1="2052.7" x2="1806.2" y2="2052.7" stroke="#000" stroke-width="2"/>
<line x1="1905.5" y1="1953.8" x2="1905.5" y2="2035.6" stroke="#000" stroke-width="2"/>
<line x1="1894.9" y1="1953.8" x2="1916.1" y2="1953.8" stroke="#000" stroke-width="2"/>
<line x1="1894.9" y1="2035.6" x2="1916.1" y2="2035.6" stroke="#000" stroke-width="2"/>
<line x1="2014.5" y1="1990.5" x2="2014.5" y2="2083.3" stroke="#000" stroke-width="2"/>
<line x1="2003.9" y1="1990.5" x2="2025.1" y2="1990.5" stroke="#000" stroke-width="2"/>
<line x1="2003.9" y1="2083.3" x2="2025.1" y2="2083.3" stroke="#000" stroke-width="2"/>
<line x1="2123.3" y1="1920.2" x2="2123.3" y2="2034.1" stroke="#000" stroke-width="2"/>
<line x1="2112.7" y1="1920.2" x2="2133.9" y2="1920.2" stroke="#000" stroke-width="2"/>
<line x1="2112.7" y1="2034.1" x2="2133.9" y2="2034.1" stroke="#000" stroke-width="2"/>
<line x1="2233.2" y1="1971" x2="2233.2" y2="2057.1" stroke="#000" stroke-width="2"/>
<line x1="2222.6" y1="1971" x2="2243.8" y2="1971" stroke="#000" stroke-width="2"/>
<line x1="2222.6" y1="2057.1" x2="2243.8" y2="2057.1" stroke="#000" stroke-width="2"/>
<polygon points="1686.6,1933.5 1697.6,1953.5 1675.6,1953.5" fill="#000"/>
<polygon points="1795.6,2021.4 1806.6,2041.4 1784.6,2041.4" fill="#000"/>
<polygon points="1905.5,1984.2 1916.5,2004.2 1894.5,2004.2" fill="#000"/>
<polygon points="2014.5,2027.3 2025.5,2047.3 2003.5,2047.3" fill="#000"/>
<polygon points="2123.3,1967.3 2134.3,1987.3 2112.3,1987.3" fill="#000"/>
<polygon points="2233.2,2003.5 2244.2,2023.5 2222.2,2023.5" fill="#000"/>
<polyline points="1686.6,1944 1795.6,2031.9 1905.5,1994.7 2014.5,2037.8 2123.3,1977.8 2233.2,2014" fill="none" stroke="#000" stroke-width="2.7" stroke-dasharray="6.6 6.2"/>
<text x="1687.9" y="1889.9" font-family="'Liberation Sans',sans-serif" font-size="40" stroke="#000" stroke-width="1.1" stroke-linejoin="round" font-weight="bold" text-anchor="middle">#</text>
<text x="2232.1" y="2091.4" font-family="'Liberation Sans',sans-serif" font-size="40" stroke="#000" stroke-width="1.1" stroke-linejoin="round" font-weight="bold" text-anchor="middle">#</text>
<g transform="translate(395.5 2468.5) scale(0.82 1)"><text x="0" y="0" font-family="'DejaVu Sans Mono',monospace" font-size="69.5" font-weight="bold" stroke="#000" stroke-width="2.2">I</text></g>
<line x1="486" y1="2532.7" x2="486" y2="2975.8" stroke="#000" stroke-width="4.6"/>
<line x1="486" y1="3015" x2="486" y2="3047.2" stroke="#000" stroke-width="4.6"/>
<line x1="472.6" y1="2568.7" x2="488.3" y2="2568.7" stroke="#000" stroke-width="4.4"/>
<text x="465.8" y="2581.5" font-family="'Liberation Sans',sans-serif" font-size="37.5" stroke="#000" stroke-width="1.6" stroke-linejoin="round" text-anchor="end">125</text>
<line x1="472.6" y1="2670.5" x2="488.3" y2="2670.5" stroke="#000" stroke-width="4.4"/>
<text x="465.8" y="2683.3" font-family="'Liberation Sans',sans-serif" font-size="37.5" stroke="#000" stroke-width="1.6" stroke-linejoin="round" text-anchor="end">110</text>
<line x1="472.6" y1="2772.4" x2="488.3" y2="2772.4" stroke="#000" stroke-width="4.4"/>
<text x="465.8" y="2785.2" font-family="'Liberation Sans',sans-serif" font-size="37.5" stroke="#000" stroke-width="1.6" stroke-linejoin="round" text-anchor="end">95</text>
<line x1="472.6" y1="2874.4" x2="488.3" y2="2874.4" stroke="#000" stroke-width="4.4"/>
<text x="465.8" y="2887.2" font-family="'Liberation Sans',sans-serif" font-size="37.5" stroke="#000" stroke-width="1.6" stroke-linejoin="round" text-anchor="end">80</text>
<line x1="472.6" y1="2975.8" x2="488.3" y2="2975.8" stroke="#000" stroke-width="4.4"/>
<line x1="472.6" y1="2975.8" x2="499.4" y2="2975.8" stroke="#000" stroke-width="4.4"/>
<line x1="472.6" y1="3015" x2="499.4" y2="3015" stroke="#000" stroke-width="4.4"/>
<text x="465.8" y="2988.6" font-family="'Liberation Sans',sans-serif" font-size="37.5" stroke="#000" stroke-width="1.6" stroke-linejoin="round" text-anchor="end">65</text>
<text x="465.8" y="3060" font-family="'Liberation Sans',sans-serif" font-size="37.5" stroke="#000" stroke-width="1.6" stroke-linejoin="round" text-anchor="end">0</text>
<line x1="471.8" y1="3047.2" x2="1143.5" y2="3047.2" stroke="#000" stroke-width="5"/>
<line x1="540.3" y1="3047.2" x2="540.3" y2="3061.5" stroke="#000" stroke-width="4.4"/>
<text x="541.1" y="3101.5" font-family="'Liberation Sans',sans-serif" font-size="37.5" stroke="#000" stroke-width="1.6" stroke-linejoin="round" text-anchor="middle">0-5</text>
<line x1="649.5" y1="3047.2" x2="649.5" y2="3061.5" stroke="#000" stroke-width="4.4"/>
<text x="650.3" y="3101.5" font-family="'Liberation Sans',sans-serif" font-size="37.5" stroke="#000" stroke-width="1.6" stroke-linejoin="round" text-anchor="middle">6-10</text>
<line x1="758.7" y1="3047.2" x2="758.7" y2="3061.5" stroke="#000" stroke-width="4.4"/>
<text x="759.5" y="3101.5" font-family="'Liberation Sans',sans-serif" font-size="37.5" stroke="#000" stroke-width="1.6" stroke-linejoin="round" text-anchor="middle">11-15</text>
<line x1="867.9" y1="3047.2" x2="867.9" y2="3061.5" stroke="#000" stroke-width="4.4"/>
<text x="868.7" y="3101.5" font-family="'Liberation Sans',sans-serif" font-size="37.5" stroke="#000" stroke-width="1.6" stroke-linejoin="round" text-anchor="middle">16-20</text>
<line x1="977.1" y1="3047.2" x2="977.1" y2="3061.5" stroke="#000" stroke-width="4.4"/>
<text x="977.9" y="3101.5" font-family="'Liberation Sans',sans-serif" font-size="37.5" stroke="#000" stroke-width="1.6" stroke-linejoin="round" text-anchor="middle">21-25</text>
<line x1="1086.3" y1="3047.2" x2="1086.3" y2="3061.5" stroke="#000" stroke-width="4.4"/>
<text x="1087.1" y="3101.5" font-family="'Liberation Sans',sans-serif" font-size="37.5" stroke="#000" stroke-width="1.6" stroke-linejoin="round" text-anchor="middle">26-30</text>
<text x="812" y="3157" font-family="'Liberation Sans',sans-serif" font-size="42.8" font-weight="bold" text-anchor="middle">Weeks on diets</text>
<text x="390" y="2776.3" font-family="'Liberation Sans',sans-serif" font-size="42" transform="rotate(-90 390 2776.3)" font-weight="bold" text-anchor="middle">Calorie intake [kcal/week]</text>
<line x1="551" y1="2643.3" x2="551" y2="2744.3" stroke="#000" stroke-width="2"/>
<line x1="540.4" y1="2643.3" x2="561.6" y2="2643.3" stroke="#000" stroke-width="2"/>
<line x1="540.4" y1="2744.3" x2="561.6" y2="2744.3" stroke="#000" stroke-width="2"/>
<line x1="659.9" y1="2695.8" x2="659.9" y2="2790.7" stroke="#000" stroke-width="2"/>
<line x1="649.3" y1="2695.8" x2="670.5" y2="2695.8" stroke="#000" stroke-width="2"/>
<line x1="649.3" y1="2790.7" x2="670.5" y2="2790.7" stroke="#000" stroke-width="2"/>
<line x1="769.3" y1="2666.7" x2="769.3" y2="2763" stroke="#000" stroke-width="2"/>
<line x1="758.7" y1="2666.7" x2="779.9" y2="2666.7" stroke="#000" stroke-width="2"/>
<line x1="758.7" y1="2763" x2="779.9" y2="2763" stroke="#000" stroke-width="2"/>
<line x1="879.3" y1="2651.8" x2="879.3" y2="2803.3" stroke="#000" stroke-width="2"/>
<line x1="868.7" y1="2651.8" x2="889.9" y2="2651.8" stroke="#000" stroke-width="2"/>
<line x1="868.7" y1="2803.3" x2="889.9" y2="2803.3" stroke="#000" stroke-width="2"/>
<line x1="988.2" y1="2674.2" x2="988.2" y2="2787.2" stroke="#000" stroke-width="2"/>
<line x1="977.6" y1="2674.2" x2="998.8" y2="2674.2" stroke="#000" stroke-width="2"/>
<line x1="977.6" y1="2787.2" x2="998.8" y2="2787.2" stroke="#000" stroke-width="2"/>
<line x1="1098.1" y1="2620.4" x2="1098.1" y2="2890.5" stroke="#000" stroke-width="2"/>
<line x1="1087.5" y1="2620.4" x2="1108.7" y2="2620.4" stroke="#000" stroke-width="2"/>
<line x1="1087.5" y1="2890.5" x2="1108.7" y2="2890.5" stroke="#000" stroke-width="2"/>
<circle cx="551" cy="2693.8" r="9.9" fill="#fff" stroke="#000" stroke-width="2"/>
<circle cx="659.9" cy="2744.3" r="9.9" fill="#fff" stroke="#000" stroke-width="2"/>
<circle cx="769.3" cy="2715.5" r="9.9" fill="#fff" stroke="#000" stroke-width="2"/>
<circle cx="879.3" cy="2727.5" r="9.9" fill="#fff" stroke="#000" stroke-width="2"/>
<circle cx="988.2" cy="2731.4" r="9.9" fill="#fff" stroke="#000" stroke-width="2"/>
<circle cx="1098.1" cy="2755.4" r="9.9" fill="#fff" stroke="#000" stroke-width="2"/>
<polyline points="551,2693.8 659.9,2744.3 769.3,2715.5 879.3,2727.5 988.2,2731.4 1098.1,2755.4" fill="none" stroke="#000" stroke-width="1.8"/>
<line x1="551" y1="2564.5" x2="551" y2="2732.3" stroke="#000" stroke-width="2"/>
<line x1="540.4" y1="2564.5" x2="561.6" y2="2564.5" stroke="#000" stroke-width="2"/>
<line x1="540.4" y1="2732.3" x2="561.6" y2="2732.3" stroke="#000" stroke-width="2"/>
<line x1="659.9" y1="2677.7" x2="659.9" y2="2784" stroke="#000" stroke-width="2"/>
<line x1="649.3" y1="2677.7" x2="670.5" y2="2677.7" stroke="#000" stroke-width="2"/>
<line x1="649.3" y1="2784" x2="670.5" y2="2784" stroke="#000" stroke-width="2"/>
<line x1="769.3" y1="2683.5" x2="769.3" y2="2769" stroke="#000" stroke-width="2"/>
<line x1="758.7" y1="2683.5" x2="779.9" y2="2683.5" stroke="#000" stroke-width="2"/>
<line x1="758.7" y1="2769" x2="779.9" y2="2769" stroke="#000" stroke-width="2"/>
<line x1="879.3" y1="2738.7" x2="879.3" y2="2820.3" stroke="#000" stroke-width="2"/>
<line x1="868.7" y1="2738.7" x2="889.9" y2="2738.7" stroke="#000" stroke-width="2"/>
<line x1="868.7" y1="2820.3" x2="889.9" y2="2820.3" stroke="#000" stroke-width="2"/>
<line x1="988.2" y1="2606.4" x2="988.2" y2="2799.7" stroke="#000" stroke-width="2"/>
<line x1="977.6" y1="2606.4" x2="998.8" y2="2606.4" stroke="#000" stroke-width="2"/>
<line x1="977.6" y1="2799.7" x2="998.8" y2="2799.7" stroke="#000" stroke-width="2"/>
<line x1="1098.1" y1="2623.5" x2="1098.1" y2="2805.7" stroke="#000" stroke-width="2"/>
<line x1="1087.5" y1="2623.5" x2="1108.7" y2="2623.5" stroke="#000" stroke-width="2"/>
<line x1="1087.5" y1="2805.7" x2="1108.7" y2="2805.7" stroke="#000" stroke-width="2"/>
<circle cx="551" cy="2648.7" r="10.3" fill="#000"/>
<circle cx="659.9" cy="2731.1" r="10.3" fill="#000"/>
<circle cx="769.3" cy="2725.8" r="10.3" fill="#000"/>
<circle cx="879.3" cy="2779.5" r="10.3" fill="#000"/>
<circle cx="988.2" cy="2703.5" r="10.3" fill="#000"/>
<circle cx="1098.1" cy="2714.6" r="10.3" fill="#000"/>
<polyline points="551,2648.7 659.9,2731.1 769.3,2725.8 879.3,2779.5 988.2,2703.5 1098.1,2714.6" fill="none" stroke="#000" stroke-width="2.7" stroke-dasharray="6.6 6.2"/>
<text x="1200.2" y="2470" font-family="'DejaVu Sans Mono',monospace" font-size="72" font-weight="bold">J</text>
<line x1="1296.2" y1="2531.5" x2="1296.2" y2="2974.9" stroke="#000" stroke-width="4.6"/>
<line x1="1296.2" y1="3014" x2="1296.2" y2="3045.7" stroke="#000" stroke-width="4.6"/>
<line x1="1280.8" y1="2533.7" x2="1298.5" y2="2533.7" stroke="#000" stroke-width="4.4"/>
<text x="1276" y="2546.5" font-family="'Liberation Sans',sans-serif" font-size="37.5" stroke="#000" stroke-width="1.6" stroke-linejoin="round" text-anchor="end">150</text>
<line x1="1280.8" y1="2644.2" x2="1298.5" y2="2644.2" stroke="#000" stroke-width="4.4"/>
<text x="1276" y="2657" font-family="'Liberation Sans',sans-serif" font-size="37.5" stroke="#000" stroke-width="1.6" stroke-linejoin="round" text-anchor="end">125</text>
<line x1="1280.8" y1="2754.5" x2="1298.5" y2="2754.5" stroke="#000" stroke-width="4.4"/>
<text x="1276" y="2767.3" font-family="'Liberation Sans',sans-serif" font-size="37.5" stroke="#000" stroke-width="1.6" stroke-linejoin="round" text-anchor="end">100</text>
<line x1="1280.8" y1="2864.9" x2="1298.5" y2="2864.9" stroke="#000" stroke-width="4.4"/>
<text x="1276" y="2877.7" font-family="'Liberation Sans',sans-serif" font-size="37.5" stroke="#000" stroke-width="1.6" stroke-linejoin="round" text-anchor="end">75</text>
<line x1="1280.8" y1="2974.9" x2="1298.5" y2="2974.9" stroke="#000" stroke-width="4.4"/>
<line x1="1280.8" y1="2974.9" x2="1309.6" y2="2974.9" stroke="#000" stroke-width="4.4"/>
<line x1="1280.8" y1="3014" x2="1309.6" y2="3014" stroke="#000" stroke-width="4.4"/>
<text x="1276" y="2987.7" font-family="'Liberation Sans',sans-serif" font-size="37.5" stroke="#000" stroke-width="1.6" stroke-linejoin="round" text-anchor="end">50</text>
<text x="1276" y="3058.5" font-family="'Liberation Sans',sans-serif" font-size="37.5" stroke="#000" stroke-width="1.6" stroke-linejoin="round" text-anchor="end">0</text>
<line x1="1459.1" y1="2655" x2="1459.1" y2="3043.5" stroke="#000" stroke-width="2" stroke-dasharray="3 4.3"/>
<line x1="1635.2" y1="2655" x2="1635.2" y2="3043.5" stroke="#000" stroke-width="2" stroke-dasharray="3 4.3"/>
<line x1="1283.4" y1="3045.7" x2="1801.6" y2="3045.7" stroke="#000" stroke-width="5"/>
<line x1="1332.9" y1="3045.7" x2="1332.9" y2="3059" stroke="#000" stroke-width="4.4"/>
<line x1="1408.4" y1="3045.7" x2="1408.4" y2="3059" stroke="#000" stroke-width="4.4"/>
<line x1="1508.8" y1="3045.7" x2="1508.8" y2="3059" stroke="#000" stroke-width="4.4"/>
<line x1="1583.8" y1="3045.7" x2="1583.8" y2="3059" stroke="#000" stroke-width="4.4"/>
<line x1="1683.8" y1="3045.7" x2="1683.8" y2="3059" stroke="#000" stroke-width="4.4"/>
<line x1="1759.3" y1="3045.7" x2="1759.3" y2="3059" stroke="#000" stroke-width="4.4"/>
<text x="1345.2" y="3096.2" font-family="'Liberation Sans',sans-serif" font-size="38" transform="rotate(-45 1345.2 3096.2)" font-weight="bold" text-anchor="end">CD</text>
<text x="1420.7" y="3096.2" font-family="'Liberation Sans',sans-serif" font-size="38" transform="rotate(-45 1420.7 3096.2)" font-weight="bold" text-anchor="end">CD-S</text>
<text x="1521.1" y="3096.2" font-family="'Liberation Sans',sans-serif" font-size="38" transform="rotate(-45 1521.1 3096.2)" font-weight="bold" text-anchor="end">HSD</text>
<text x="1596.1" y="3096.2" font-family="'Liberation Sans',sans-serif" font-size="38" transform="rotate(-45 1596.1 3096.2)" font-weight="bold" text-anchor="end">HSD-S</text>
<text x="1696.1" y="3096.2" font-family="'Liberation Sans',sans-serif" font-size="38" transform="rotate(-45 1696.1 3096.2)" font-weight="bold" text-anchor="end">HFD</text>
<text x="1771.6" y="3096.2" font-family="'Liberation Sans',sans-serif" font-size="38" transform="rotate(-45 1771.6 3096.2)" font-weight="bold" text-anchor="end">HFD-S</text>
<rect x="1312.55" y="2807.93" width="20" height="20" fill="none" stroke="#000" stroke-width="2"/>
<rect x="1333.7" y="2807.93" width="20" height="20" fill="none" stroke="#000" stroke-width="2"/>
<rect x="1329.38" y="2816.59" width="20" height="20" fill="none" stroke="#000" stroke-width="2"/>
<rect x="1316.88" y="2829.09" width="20" height="20" fill="none" stroke="#000" stroke-width="2"/>
<rect x="1327.69" y="2830.29" width="20" height="20" fill="none" stroke="#000" stroke-width="2"/>
<rect x="1321.68" y="2836.3" width="20" height="20" fill="none" stroke="#000" stroke-width="2"/>
<rect x="1312.55" y="2860.34" width="20" height="20" fill="none" stroke="#000" stroke-width="2"/>
<rect x="1333.7" y="2861.06" width="20" height="20" fill="none" stroke="#000" stroke-width="2"/>
<rect x="1322.88" y="2869.23" width="20" height="20" fill="none" stroke="#000" stroke-width="2"/>
<line x1="1308.12" y1="2845.1" x2="1357.4" y2="2845.1" stroke="#000" stroke-width="4.4"/>
<rect x="1383.06" y="2813.78" width="20.8" height="20.8" fill="#000"/>
<rect x="1413.11" y="2822.2" width="20.8" height="20.8" fill="#000"/>
<rect x="1383.06" y="2828.69" width="20.8" height="20.8" fill="#000"/>
<rect x="1413.83" y="2828.69" width="20.8" height="20.8" fill="#000"/>
<rect x="1394.6" y="2839.5" width="20.8" height="20.8" fill="#000"/>
<rect x="1400.61" y="2841.91" width="20.8" height="20.8" fill="#000"/>
<rect x="1411.43" y="2860.66" width="20.8" height="20.8" fill="#000"/>
<rect x="1385.71" y="2874.84" width="20.8" height="20.8" fill="#000"/>
<line x1="1383.37" y1="2845.1" x2="1433.85" y2="2845.1" stroke="#000" stroke-width="4.4"/>
<polygon points="1509.09,2735.42 1519.09,2753.82 1499.09,2753.82" fill="none" stroke="#000" stroke-width="2" stroke-linejoin="miter"/>
<polygon points="1519.66,2756.57 1529.66,2774.97 1509.66,2774.97" fill="none" stroke="#000" stroke-width="2" stroke-linejoin="miter"/>
<polygon points="1498.75,2778.2 1508.75,2796.6 1488.75,2796.6" fill="none" stroke="#000" stroke-width="2" stroke-linejoin="miter"/>
<polygon points="1509.09,2780.61 1519.09,2799.01 1499.09,2799.01" fill="none" stroke="#000" stroke-width="2" stroke-linejoin="miter"/>
<polygon points="1524.47,2781.81 1534.47,2800.21 1514.47,2800.21" fill="none" stroke="#000" stroke-width="2" stroke-linejoin="miter"/>
<polygon points="1493.94,2786.62 1503.94,2805.02 1483.94,2805.02" fill="none" stroke="#000" stroke-width="2" stroke-linejoin="miter"/>
<polygon points="1524.47,2789.02 1534.47,2807.42 1514.47,2807.42" fill="none" stroke="#000" stroke-width="2" stroke-linejoin="miter"/>
<polygon points="1495.14,2808.25 1505.14,2826.65 1485.14,2826.65" fill="none" stroke="#000" stroke-width="2" stroke-linejoin="miter"/>
<polygon points="1504.76,2810.66 1514.76,2829.06 1494.76,2829.06" fill="none" stroke="#000" stroke-width="2" stroke-linejoin="miter"/>
<polygon points="1514.38,2808.25 1524.38,2826.65 1504.38,2826.65" fill="none" stroke="#000" stroke-width="2" stroke-linejoin="miter"/>
<line x1="1483.12" y1="2795.34" x2="1536.01" y2="2795.34" stroke="#000" stroke-width="4.4"/>
<polygon points="1572.07,2772.1 1583.07,2792.1 1561.07,2792.1" fill="#000"/>
<polygon points="1597.31,2776.18 1608.31,2796.18 1586.31,2796.18" fill="#000"/>
<polygon points="1568.46,2784.12 1579.46,2804.12 1557.46,2804.12" fill="#000"/>
<polygon points="1599.71,2786.52 1610.71,2806.52 1588.71,2806.52" fill="#000"/>
<polygon points="1576.88,2793.73 1587.88,2813.73 1565.88,2813.73" fill="#000"/>
<polygon points="1592.5,2793.73 1603.5,2813.73 1581.5,2813.73" fill="#000"/>
<polygon points="1581.68,2800.94 1592.68,2820.94 1570.68,2820.94" fill="#000"/>
<polygon points="1587.69,2805.75 1598.69,2825.75 1576.69,2825.75" fill="#000"/>
<polygon points="1584.09,2810.56 1595.09,2830.56 1573.09,2830.56" fill="#000"/>
<line x1="1558.85" y1="2800.14" x2="1609.33" y2="2800.14" stroke="#000" stroke-width="4.4"/>
<circle cx="1670.67" cy="2719.47" r="9.9" fill="none" stroke="#000" stroke-width="2"/>
<circle cx="1678.61" cy="2731.01" r="9.9" fill="none" stroke="#000" stroke-width="2"/>
<circle cx="1701.92" cy="2729.81" r="9.9" fill="none" stroke="#000" stroke-width="2"/>
<circle cx="1692.31" cy="2737.02" r="9.9" fill="none" stroke="#000" stroke-width="2"/>
<circle cx="1674.28" cy="2741.83" r="9.9" fill="none" stroke="#000" stroke-width="2"/>
<circle cx="1695.91" cy="2750.96" r="9.9" fill="none" stroke="#000" stroke-width="2"/>
<circle cx="1685.1" cy="2768.27" r="9.9" fill="none" stroke="#000" stroke-width="2"/>
<line x1="1659.86" y1="2739.42" x2="1711.06" y2="2739.42" stroke="#000" stroke-width="4.4"/>
<circle cx="1745.19" cy="2699.04" r="10.3" fill="#000"/>
<circle cx="1776.44" cy="2697.84" r="10.3" fill="#000"/>
<circle cx="1754.81" cy="2720.19" r="10.3" fill="#000"/>
<circle cx="1768.03" cy="2717.79" r="10.3" fill="#000"/>
<circle cx="1750" cy="2744.23" r="10.3" fill="#000"/>
<circle cx="1771.63" cy="2741.83" r="10.3" fill="#000"/>
<circle cx="1760.82" cy="2769.47" r="10.3" fill="#000"/>
<circle cx="1774.04" cy="2775.48" r="10.3" fill="#000"/>
<circle cx="1748.32" cy="2802.64" r="10.3" fill="#000"/>
<line x1="1736.78" y1="2740.62" x2="1786.06" y2="2740.62" stroke="#000" stroke-width="4.4"/>
<line x1="1332.9" y1="2606.7" x2="1506.9" y2="2606.7" stroke="#000" stroke-width="2.4"/>
<text x="1422.95" y="2610.2" font-family="'DejaVu Sans',sans-serif" font-size="30" stroke="#000" stroke-width="0.7" stroke-linejoin="round" letter-spacing="2.3" font-weight="bold" text-anchor="middle">***</text>
<line x1="1408.4" y1="2575.5" x2="1581.9" y2="2575.5" stroke="#5c5c5c" stroke-width="4.6"/>
<text x="1494.65" y="2579.9" font-family="'DejaVu Sans',sans-serif" font-size="30" stroke="#000" stroke-width="0.7" stroke-linejoin="round" letter-spacing="2.3" font-weight="bold" text-anchor="middle">***</text>
<line x1="1332.9" y1="2531.2" x2="1685.8" y2="2531.2" stroke="#000" stroke-width="2.4"/>
<text x="1511.45" y="2534.2" font-family="'DejaVu Sans',sans-serif" font-size="30" stroke="#000" stroke-width="0.7" stroke-linejoin="round" letter-spacing="2.3" font-weight="bold" text-anchor="middle">***</text>
<line x1="1409.8" y1="2500.4" x2="1761.7" y2="2500.4" stroke="#000" stroke-width="2.4"/>
<text x="1584.95" y="2504.4" font-family="'DejaVu Sans',sans-serif" font-size="30" stroke="#000" stroke-width="0.7" stroke-linejoin="round" letter-spacing="2.3" font-weight="bold" text-anchor="middle">***</text>
<line x1="1509.8" y1="2454.7" x2="1685.8" y2="2454.7" stroke="#000" stroke-width="2.4"/>
<text x="1598.45" y="2459.7" font-family="'DejaVu Sans',sans-serif" font-size="30" stroke="#000" stroke-width="0.7" stroke-linejoin="round" letter-spacing="2.3" font-weight="bold" text-anchor="middle">***</text>
<line x1="1584.8" y1="2424.9" x2="1761.7" y2="2424.9" stroke="#000" stroke-width="2.4"/>
<text x="1674.95" y="2429.9" font-family="'DejaVu Sans',sans-serif" font-size="30" stroke="#000" stroke-width="0.7" stroke-linejoin="round" letter-spacing="2.3" font-weight="bold" text-anchor="middle">***</text>
<text x="134" y="3292.5" font-family="'DejaVu Sans Condensed','DejaVu Sans',sans-serif" font-size="71.5" font-weight="bold">K</text>
<line x1="191.6" y1="3368.3" x2="191.6" y2="3882.7" stroke="#000" stroke-width="4.6"/>
<line x1="176.2" y1="3370.5" x2="193.9" y2="3370.5" stroke="#000" stroke-width="4.4"/>
<text x="171.4" y="3383.3" font-family="'Liberation Sans',sans-serif" font-size="37.5" stroke="#000" stroke-width="1.6" stroke-linejoin="round" text-anchor="end">4</text>
<line x1="176.2" y1="3497.6" x2="193.9" y2="3497.6" stroke="#000" stroke-width="4.4"/>
<text x="171.4" y="3510.4" font-family="'Liberation Sans',sans-serif" font-size="37.5" stroke="#000" stroke-width="1.6" stroke-linejoin="round" text-anchor="end">3</text>
<line x1="176.2" y1="3625.8" x2="193.9" y2="3625.8" stroke="#000" stroke-width="4.4"/>
<text x="171.4" y="3638.6" font-family="'Liberation Sans',sans-serif" font-size="37.5" stroke="#000" stroke-width="1.6" stroke-linejoin="round" text-anchor="end">2</text>
<line x1="176.2" y1="3753.9" x2="193.9" y2="3753.9" stroke="#000" stroke-width="4.4"/>
<text x="171.4" y="3766.7" font-family="'Liberation Sans',sans-serif" font-size="37.5" stroke="#000" stroke-width="1.6" stroke-linejoin="round" text-anchor="end">1</text>
<text x="171.4" y="3895.5" font-family="'Liberation Sans',sans-serif" font-size="37.5" stroke="#000" stroke-width="1.6" stroke-linejoin="round" text-anchor="end">0</text>
<line x1="353.9" y1="3414" x2="353.9" y2="3880.5" stroke="#000" stroke-width="2" stroke-dasharray="3 4.3"/>
<line x1="529.9" y1="3414" x2="529.9" y2="3880.5" stroke="#000" stroke-width="2" stroke-dasharray="3 4.3"/>
<line x1="177.5" y1="3882.7" x2="696" y2="3882.7" stroke="#000" stroke-width="5"/>
<line x1="227.7" y1="3882.7" x2="227.7" y2="3897.6" stroke="#000" stroke-width="4.4"/>
<line x1="302.9" y1="3882.7" x2="302.9" y2="3897.6" stroke="#000" stroke-width="4.4"/>
<line x1="403.2" y1="3882.7" x2="403.2" y2="3897.6" stroke="#000" stroke-width="4.4"/>
<line x1="478.4" y1="3882.7" x2="478.4" y2="3897.6" stroke="#000" stroke-width="4.4"/>
<line x1="579.4" y1="3882.7" x2="579.4" y2="3897.6" stroke="#000" stroke-width="4.4"/>
<line x1="655.1" y1="3882.7" x2="655.1" y2="3897.6" stroke="#000" stroke-width="4.4"/>
<text x="240" y="3933.2" font-family="'Liberation Sans',sans-serif" font-size="38" transform="rotate(-45 240 3933.2)" font-weight="bold" text-anchor="end">CD</text>
<text x="315.2" y="3933.2" font-family="'Liberation Sans',sans-serif" font-size="38" transform="rotate(-45 315.2 3933.2)" font-weight="bold" text-anchor="end">CD-S</text>
<text x="415.5" y="3933.2" font-family="'Liberation Sans',sans-serif" font-size="38" transform="rotate(-45 415.5 3933.2)" font-weight="bold" text-anchor="end">HSD</text>
<text x="490.7" y="3933.2" font-family="'Liberation Sans',sans-serif" font-size="38" transform="rotate(-45 490.7 3933.2)" font-weight="bold" text-anchor="end">HSD-S</text>
<text x="591.7" y="3933.2" font-family="'Liberation Sans',sans-serif" font-size="38" transform="rotate(-45 591.7 3933.2)" font-weight="bold" text-anchor="end">HFD</text>
<text x="667.4" y="3933.2" font-family="'Liberation Sans',sans-serif" font-size="38" transform="rotate(-45 667.4 3933.2)" font-weight="bold" text-anchor="end">HFD-S</text>
<text x="88.3" y="3602.8" font-family="'Liberation Sans',sans-serif" font-size="42.8" transform="rotate(-90 88.3 3602.8)" font-weight="bold" text-anchor="middle">Epididymal WAT [g]</text>
<rect x="217.69" y="3582.4" width="20" height="20" fill="none" stroke="#000" stroke-width="2"/>
<rect x="217.69" y="3619.42" width="20" height="20" fill="none" stroke="#000" stroke-width="2"/>
<rect x="204.47" y="3644.18" width="20" height="20" fill="none" stroke="#000" stroke-width="2"/>
<rect x="230.91" y="3667.02" width="20" height="20" fill="none" stroke="#000" stroke-width="2"/>
<rect x="233.32" y="3701.15" width="20" height="20" fill="none" stroke="#000" stroke-width="2"/>
<rect x="202.07" y="3717.02" width="20" height="20" fill="none" stroke="#000" stroke-width="2"/>
<rect x="233.32" y="3723.51" width="20" height="20" fill="none" stroke="#000" stroke-width="2"/>
<rect x="206.88" y="3724.71" width="20" height="20" fill="none" stroke="#000" stroke-width="2"/>
<rect x="213.37" y="3728.32" width="20" height="20" fill="none" stroke="#000" stroke-width="2"/>
<rect x="223.7" y="3725.91" width="20" height="20" fill="none" stroke="#000" stroke-width="2"/>
<line x1="202.93" y1="3693.12" x2="252.45" y2="3693.12" stroke="#000" stroke-width="4.4"/>
<rect x="293.25" y="3657" width="20.8" height="20.8" fill="#000"/>
<rect x="282.92" y="3715.9" width="20.8" height="20.8" fill="#000"/>
<rect x="303.83" y="3724.79" width="20.8" height="20.8" fill="#000"/>
<rect x="290.61" y="3733.93" width="20.8" height="20.8" fill="#000"/>
<rect x="296.62" y="3743.54" width="20.8" height="20.8" fill="#000"/>
<rect x="280.27" y="3791.62" width="20.8" height="20.8" fill="#000"/>
<rect x="318.73" y="3801.72" width="20.8" height="20.8" fill="#000"/>
<rect x="306.23" y="3807.24" width="20.8" height="20.8" fill="#000"/>
<rect x="280.27" y="3834.17" width="20.8" height="20.8" fill="#000"/>
<line x1="278.17" y1="3766.44" x2="329.13" y2="3766.44" stroke="#000" stroke-width="4.4"/>
<polygon points="404.38,3598.11 414.38,3616.51 394.38,3616.51" fill="none" stroke="#000" stroke-width="2" stroke-linejoin="miter"/>
<polygon points="393.56,3629.36 403.56,3647.76 383.56,3647.76" fill="none" stroke="#000" stroke-width="2" stroke-linejoin="miter"/>
<polygon points="414.71,3630.08 424.71,3648.48 404.71,3648.48" fill="none" stroke="#000" stroke-width="2" stroke-linejoin="miter"/>
<polygon points="404.38,3640.18 414.38,3658.57 394.38,3658.57" fill="none" stroke="#000" stroke-width="2" stroke-linejoin="miter"/>
<polygon points="391.15,3663.01 401.15,3681.41 381.15,3681.41" fill="none" stroke="#000" stroke-width="2" stroke-linejoin="miter"/>
<polygon points="417.12,3679.84 427.12,3698.24 407.12,3698.24" fill="none" stroke="#000" stroke-width="2" stroke-linejoin="miter"/>
<polygon points="388.27,3711.09 398.27,3729.49 378.27,3729.49" fill="none" stroke="#000" stroke-width="2" stroke-linejoin="miter"/>
<polygon points="420,3707.48 430,3725.88 410,3725.88" fill="none" stroke="#000" stroke-width="2" stroke-linejoin="miter"/>
<polygon points="411.59,3721.91 421.59,3740.31 401.59,3740.31" fill="none" stroke="#000" stroke-width="2" stroke-linejoin="miter"/>
<polygon points="397.64,3733.93 407.64,3752.32 387.64,3752.32" fill="none" stroke="#000" stroke-width="2" stroke-linejoin="miter"/>
<line x1="379.86" y1="3680.14" x2="429.62" y2="3680.14" stroke="#000" stroke-width="4.4"/>
<polygon points="480.1,3599.21 491.1,3619.21 469.1,3619.21" fill="#000"/>
<polygon points="468.8,3679.26 479.8,3699.26 457.8,3699.26" fill="#000"/>
<polygon points="490.19,3676.13 501.19,3696.13 479.19,3696.13" fill="#000"/>
<polygon points="480.1,3700.17 491.1,3720.17 469.1,3720.17" fill="#000"/>
<polygon points="495,3715.08 506,3735.08 484,3735.08" fill="#000"/>
<polygon points="463.99,3727.82 474.99,3747.82 452.99,3747.82" fill="#000"/>
<polygon points="486.83,3739.84 497.83,3759.84 475.83,3759.84" fill="#000"/>
<polygon points="473.37,3743.44 484.37,3763.44 462.37,3763.44" fill="#000"/>
<line x1="454.86" y1="3707.55" x2="504.62" y2="3707.55" stroke="#000" stroke-width="4.4"/>
<circle cx="580.29" cy="3494.95" r="9.9" fill="none" stroke="#000" stroke-width="2"/>
<circle cx="593.03" cy="3516.59" r="9.9" fill="none" stroke="#000" stroke-width="2"/>
<circle cx="567.79" cy="3530.53" r="9.9" fill="none" stroke="#000" stroke-width="2"/>
<circle cx="567.79" cy="3593.03" r="9.9" fill="none" stroke="#000" stroke-width="2"/>
<circle cx="593.03" cy="3618.75" r="9.9" fill="none" stroke="#000" stroke-width="2"/>
<circle cx="569.95" cy="3640.38" r="9.9" fill="none" stroke="#000" stroke-width="2"/>
<circle cx="580.29" cy="3651.92" r="9.9" fill="none" stroke="#000" stroke-width="2"/>
<circle cx="590.62" cy="3651.2" r="9.9" fill="none" stroke="#000" stroke-width="2"/>
<line x1="554.57" y1="3586.3" x2="605.05" y2="3586.3" stroke="#000" stroke-width="4.4"/>
<circle cx="656.01" cy="3432.45" r="10.3" fill="#000"/>
<circle cx="666.35" cy="3522.6" r="10.3" fill="#000"/>
<circle cx="645.19" cy="3541.83" r="10.3" fill="#000"/>
<circle cx="655.53" cy="3543.75" r="10.3" fill="#000"/>
<circle cx="668.75" cy="3575.96" r="10.3" fill="#000"/>
<circle cx="642.79" cy="3591.11" r="10.3" fill="#000"/>
<circle cx="656.01" cy="3631.49" r="10.3" fill="#000"/>
<circle cx="668.75" cy="3654.81" r="10.3" fill="#000"/>
<circle cx="642.79" cy="3684.38" r="10.3" fill="#000"/>
<line x1="630.77" y1="3574.28" x2="681.25" y2="3574.28" stroke="#000" stroke-width="4.4"/>
<line x1="229.7" y1="3414.8" x2="304.3" y2="3414.8" stroke="#000" stroke-width="2.4"/>
<text x="266.35" y="3418.9" font-family="'DejaVu Sans',sans-serif" font-size="30" stroke="#000" stroke-width="0.7" stroke-linejoin="round" letter-spacing="2.3" font-weight="bold" text-anchor="middle">**</text>
<line x1="229.7" y1="3369.4" x2="581" y2="3369.4" stroke="#000" stroke-width="2.4"/>
<text x="407.25" y="3370.9" font-family="'DejaVu Sans',sans-serif" font-size="30" stroke="#000" stroke-width="0.7" stroke-linejoin="round" letter-spacing="2.3" font-weight="bold" text-anchor="middle">***</text>
<line x1="305.4" y1="3336.5" x2="656.1" y2="3336.5" stroke="#000" stroke-width="2.4"/>
<text x="480.35" y="3343.3" font-family="'DejaVu Sans',sans-serif" font-size="30" stroke="#000" stroke-width="0.7" stroke-linejoin="round" letter-spacing="2.3" font-weight="bold" text-anchor="middle">***</text>
<line x1="405.6" y1="3291.6" x2="581" y2="3291.6" stroke="#000" stroke-width="2.4"/>
<text x="482.95" y="3296.3" font-family="'DejaVu Sans',sans-serif" font-size="30" stroke="#000" stroke-width="0.7" stroke-linejoin="round" letter-spacing="2.3" font-weight="bold" text-anchor="middle">**</text>
<line x1="480.2" y1="3262.9" x2="656.1" y2="3262.9" stroke="#000" stroke-width="2.4"/>
<text x="569.05" y="3267.6" font-family="'DejaVu Sans',sans-serif" font-size="30" stroke="#000" stroke-width="0.7" stroke-linejoin="round" letter-spacing="2.3" font-weight="bold" text-anchor="middle">***</text>
<text x="857" y="3292" font-family="'DejaVu Sans Condensed','DejaVu Sans',sans-serif" font-size="71.5" font-weight="bold">L</text>
<line x1="897.4" y1="3364.8" x2="897.4" y2="3401.1" stroke="#000" stroke-width="4.6"/>
<line x1="897.4" y1="3439.2" x2="897.4" y2="3880" stroke="#000" stroke-width="4.6"/>
<line x1="882" y1="3367" x2="899.7" y2="3367" stroke="#000" stroke-width="4.4"/>
<text x="877.2" y="3379.8" font-family="'Liberation Sans',sans-serif" font-size="37.5" stroke="#000" stroke-width="1.6" stroke-linejoin="round" text-anchor="end">4</text>
<line x1="882" y1="3479.9" x2="899.7" y2="3479.9" stroke="#000" stroke-width="4.4"/>
<text x="877.2" y="3492.7" font-family="'Liberation Sans',sans-serif" font-size="37.5" stroke="#000" stroke-width="1.6" stroke-linejoin="round" text-anchor="end">2</text>
<line x1="882" y1="3679.5" x2="899.7" y2="3679.5" stroke="#000" stroke-width="4.4"/>
<text x="877.2" y="3692.3" font-family="'Liberation Sans',sans-serif" font-size="37.5" stroke="#000" stroke-width="1.6" stroke-linejoin="round" text-anchor="end">1</text>
<line x1="882" y1="3401.1" x2="910.8" y2="3401.1" stroke="#000" stroke-width="4.4"/>
<line x1="882" y1="3439.2" x2="910.8" y2="3439.2" stroke="#000" stroke-width="4.4"/>
<text x="877.2" y="3892.8" font-family="'Liberation Sans',sans-serif" font-size="37.5" stroke="#000" stroke-width="1.6" stroke-linejoin="round" text-anchor="end">0</text>
<line x1="1060.8" y1="3418" x2="1060.8" y2="3878" stroke="#000" stroke-width="2" stroke-dasharray="3 4.3"/>
<line x1="1236.8" y1="3418" x2="1236.8" y2="3878" stroke="#000" stroke-width="2" stroke-dasharray="3 4.3"/>
<line x1="884.8" y1="3880" x2="1402.5" y2="3880" stroke="#000" stroke-width="5"/>
<line x1="935.3" y1="3880" x2="935.3" y2="3894.9" stroke="#000" stroke-width="4.4"/>
<line x1="1010.3" y1="3880" x2="1010.3" y2="3894.9" stroke="#000" stroke-width="4.4"/>
<line x1="1110.3" y1="3880" x2="1110.3" y2="3894.9" stroke="#000" stroke-width="4.4"/>
<line x1="1185.3" y1="3880" x2="1185.3" y2="3894.9" stroke="#000" stroke-width="4.4"/>
<line x1="1285.8" y1="3880" x2="1285.8" y2="3894.9" stroke="#000" stroke-width="4.4"/>
<line x1="1361.1" y1="3880" x2="1361.1" y2="3894.9" stroke="#000" stroke-width="4.4"/>
<text x="947.6" y="3930.5" font-family="'Liberation Sans',sans-serif" font-size="38" transform="rotate(-45 947.6 3930.5)" font-weight="bold" text-anchor="end">CD</text>
<text x="1022.6" y="3930.5" font-family="'Liberation Sans',sans-serif" font-size="38" transform="rotate(-45 1022.6 3930.5)" font-weight="bold" text-anchor="end">CD-S</text>
<text x="1122.6" y="3930.5" font-family="'Liberation Sans',sans-serif" font-size="38" transform="rotate(-45 1122.6 3930.5)" font-weight="bold" text-anchor="end">HSD</text>
<text x="1197.6" y="3930.5" font-family="'Liberation Sans',sans-serif" font-size="38" transform="rotate(-45 1197.6 3930.5)" font-weight="bold" text-anchor="end">HSD-S</text>
<text x="1298.1" y="3930.5" font-family="'Liberation Sans',sans-serif" font-size="38" transform="rotate(-45 1298.1 3930.5)" font-weight="bold" text-anchor="end">HFD</text>
<text x="1373.4" y="3930.5" font-family="'Liberation Sans',sans-serif" font-size="38" transform="rotate(-45 1373.4 3930.5)" font-weight="bold" text-anchor="end">HFD-S</text>
<text x="795.5" y="3600.5" font-family="'Liberation Sans',sans-serif" font-size="43.1" transform="rotate(-90 795.5 3600.5)" font-weight="bold" text-anchor="middle">Retroperitoneal WAT [g]</text>
<rect x="924.81" y="3660.53" width="20" height="20" fill="none" stroke="#000" stroke-width="2"/>
<rect x="924.81" y="3717.02" width="20" height="20" fill="none" stroke="#000" stroke-width="2"/>
<rect x="914.47" y="3735.05" width="20" height="20" fill="none" stroke="#000" stroke-width="2"/>
<rect x="934.9" y="3732.64" width="20" height="20" fill="none" stroke="#000" stroke-width="2"/>
<rect x="924.81" y="3752.36" width="20" height="20" fill="none" stroke="#000" stroke-width="2"/>
<rect x="914.47" y="3778.32" width="20" height="20" fill="none" stroke="#000" stroke-width="2"/>
<rect x="934.9" y="3789.13" width="20" height="20" fill="none" stroke="#000" stroke-width="2"/>
<rect x="919.28" y="3790.82" width="20" height="20" fill="none" stroke="#000" stroke-width="2"/>
<rect x="930.1" y="3800.43" width="20" height="20" fill="none" stroke="#000" stroke-width="2"/>
<rect x="924.81" y="3804.04" width="20" height="20" fill="none" stroke="#000" stroke-width="2"/>
<line x1="909.33" y1="3766.44" x2="959.81" y2="3766.44" stroke="#000" stroke-width="4.4"/>
<rect x="1000.13" y="3713.01" width="20.8" height="20.8" fill="#000"/>
<rect x="1010.23" y="3783.93" width="20.8" height="20.8" fill="#000"/>
<rect x="990.99" y="3795.22" width="20.8" height="20.8" fill="#000"/>
<rect x="1004.22" y="3798.83" width="20.8" height="20.8" fill="#000"/>
<rect x="1000.13" y="3809.65" width="20.8" height="20.8" fill="#000"/>
<rect x="984.98" y="3839.7" width="20.8" height="20.8" fill="#000"/>
<rect x="1016.23" y="3837.77" width="20.8" height="20.8" fill="#000"/>
<rect x="1000.61" y="3840.9" width="20.8" height="20.8" fill="#000"/>
<rect x="993.4" y="3850.51" width="20.8" height="20.8" fill="#000"/>
<line x1="985.77" y1="3817.64" x2="1035.53" y2="3817.64" stroke="#000" stroke-width="4.4"/>
<polygon points="1111.25,3701.95 1121.25,3720.35 1101.25,3720.35" fill="none" stroke="#000" stroke-width="2" stroke-linejoin="miter"/>
<polygon points="1100.67,3737.53 1110.67,3755.93 1090.67,3755.93" fill="none" stroke="#000" stroke-width="2" stroke-linejoin="miter"/>
<polygon points="1122.31,3737.53 1132.31,3755.93 1112.31,3755.93" fill="none" stroke="#000" stroke-width="2" stroke-linejoin="miter"/>
<polygon points="1108.37,3751.95 1118.37,3770.35 1098.37,3770.35" fill="none" stroke="#000" stroke-width="2" stroke-linejoin="miter"/>
<polygon points="1114.38,3754.36 1124.38,3772.76 1104.38,3772.76" fill="none" stroke="#000" stroke-width="2" stroke-linejoin="miter"/>
<polygon points="1095.87,3779.12 1105.87,3797.52 1085.87,3797.52" fill="none" stroke="#000" stroke-width="2" stroke-linejoin="miter"/>
<polygon points="1127.12,3772.39 1137.12,3790.79 1117.12,3790.79" fill="none" stroke="#000" stroke-width="2" stroke-linejoin="miter"/>
<polygon points="1117.98,3789.21 1127.98,3807.61 1107.98,3807.61" fill="none" stroke="#000" stroke-width="2" stroke-linejoin="miter"/>
<polygon points="1105.24,3802.43 1115.24,3820.83 1095.24,3820.83" fill="none" stroke="#000" stroke-width="2" stroke-linejoin="miter"/>
<line x1="1085.53" y1="3765.24" x2="1136.73" y2="3765.24" stroke="#000" stroke-width="4.4"/>
<polygon points="1186.49,3747.05 1197.49,3767.05 1175.49,3767.05" fill="#000"/>
<polygon points="1170.87,3760.75 1181.87,3780.75 1159.87,3780.75" fill="#000"/>
<polygon points="1202.12,3772.29 1213.12,3792.29 1191.12,3792.29" fill="#000"/>
<polygon points="1173.27,3780.7 1184.27,3800.7 1162.27,3800.7" fill="#000"/>
<polygon points="1185.29,3786.71 1196.29,3806.71 1174.29,3806.71" fill="#000"/>
<polygon points="1197.31,3785.51 1208.31,3805.51 1186.31,3805.51" fill="#000"/>
<polygon points="1199.71,3808.35 1210.71,3828.35 1188.71,3828.35" fill="#000"/>
<polygon points="1174.47,3823.97 1185.47,3843.97 1163.47,3843.97" fill="#000"/>
<line x1="1160.77" y1="3793.61" x2="1211.73" y2="3793.61" stroke="#000" stroke-width="4.4"/>
<circle cx="1287.5" cy="3482.88" r="9.9" fill="none" stroke="#000" stroke-width="2"/>
<circle cx="1287.5" cy="3600.19" r="9.9" fill="none" stroke="#000" stroke-width="2"/>
<circle cx="1274.28" cy="3635.53" r="9.9" fill="none" stroke="#000" stroke-width="2"/>
<circle cx="1300" cy="3651.63" r="9.9" fill="none" stroke="#000" stroke-width="2"/>
<circle cx="1303.12" cy="3665.58" r="9.9" fill="none" stroke="#000" stroke-width="2"/>
<circle cx="1271.15" cy="3679.28" r="9.9" fill="none" stroke="#000" stroke-width="2"/>
<circle cx="1295.19" cy="3680.72" r="9.9" fill="none" stroke="#000" stroke-width="2"/>
<circle cx="1281.49" cy="3685.53" r="9.9" fill="none" stroke="#000" stroke-width="2"/>
<line x1="1262.98" y1="3635.05" x2="1312.02" y2="3635.05" stroke="#000" stroke-width="4.4"/>
<circle cx="1362.74" cy="3482.16" r="10.3" fill="#000"/>
<circle cx="1362.74" cy="3545.87" r="10.3" fill="#000"/>
<circle cx="1350" cy="3613.89" r="10.3" fill="#000"/>
<circle cx="1375.24" cy="3622.79" r="10.3" fill="#000"/>
<circle cx="1362.74" cy="3655.96" r="10.3" fill="#000"/>
<circle cx="1350" cy="3696.35" r="10.3" fill="#000"/>
<circle cx="1388.46" cy="3707.16" r="10.3" fill="#000"/>
<circle cx="1375.24" cy="3724.47" r="10.3" fill="#000"/>
<circle cx="1350" cy="3740.1" r="10.3" fill="#000"/>
<line x1="1337.5" y1="3642.5" x2="1387.26" y2="3642.5" stroke="#000" stroke-width="4.4"/>
<line x1="937.2" y1="3414.2" x2="1012.9" y2="3414.2" stroke="#000" stroke-width="2.4"/>
<text x="975.45" y="3418.1" font-family="'DejaVu Sans',sans-serif" font-size="30" stroke="#000" stroke-width="0.7" stroke-linejoin="round" letter-spacing="2.3" font-weight="bold" text-anchor="middle">*</text>
<line x1="937.2" y1="3367.4" x2="1288.9" y2="3367.4" stroke="#000" stroke-width="2.4"/>
<text x="1114.65" y="3370.4" font-family="'DejaVu Sans',sans-serif" font-size="30" stroke="#000" stroke-width="0.7" stroke-linejoin="round" letter-spacing="2.3" font-weight="bold" text-anchor="middle">***</text>
<line x1="1012.9" y1="3338.6" x2="1364.1" y2="3338.6" stroke="#5c5c5c" stroke-width="4.6"/>
<text x="1188.35" y="3344.4" font-family="'DejaVu Sans',sans-serif" font-size="30" stroke="#000" stroke-width="0.7" stroke-linejoin="round" letter-spacing="2.3" font-weight="bold" text-anchor="middle">***</text>
<line x1="1112.5" y1="3290.3" x2="1288.9" y2="3290.3" stroke="#5c5c5c" stroke-width="4.6"/>
<text x="1201.65" y="3295.1" font-family="'DejaVu Sans',sans-serif" font-size="30" stroke="#000" stroke-width="0.7" stroke-linejoin="round" letter-spacing="2.3" font-weight="bold" text-anchor="middle">***</text>
<line x1="1187.2" y1="3261.7" x2="1364.1" y2="3261.7" stroke="#000" stroke-width="2.4"/>
<text x="1277.35" y="3266.7" font-family="'DejaVu Sans',sans-serif" font-size="30" stroke="#000" stroke-width="0.7" stroke-linejoin="round" letter-spacing="2.3" font-weight="bold" text-anchor="middle">***</text>
<text x="1593.5" y="3292" font-family="'DejaVu Sans Condensed','DejaVu Sans',sans-serif" font-size="71.5" font-weight="bold">M</text>
<line x1="1630" y1="3366.8" x2="1630" y2="3399.6" stroke="#000" stroke-width="4.6"/>
<line x1="1630" y1="3437.7" x2="1630" y2="3879" stroke="#000" stroke-width="4.6"/>
<line x1="1614.6" y1="3369" x2="1632.3" y2="3369" stroke="#000" stroke-width="4.4"/>
<text x="1609.8" y="3381.8" font-family="'Liberation Sans',sans-serif" font-size="37.5" stroke="#000" stroke-width="1.6" stroke-linejoin="round" text-anchor="end">4</text>
<line x1="1614.6" y1="3476.3" x2="1632.3" y2="3476.3" stroke="#000" stroke-width="4.4"/>
<text x="1609.8" y="3489.1" font-family="'Liberation Sans',sans-serif" font-size="37.5" stroke="#000" stroke-width="1.6" stroke-linejoin="round" text-anchor="end">2</text>
<line x1="1614.6" y1="3678.3" x2="1632.3" y2="3678.3" stroke="#000" stroke-width="4.4"/>
<text x="1609.8" y="3691.1" font-family="'Liberation Sans',sans-serif" font-size="37.5" stroke="#000" stroke-width="1.6" stroke-linejoin="round" text-anchor="end">1</text>
<line x1="1614.6" y1="3399.6" x2="1643.4" y2="3399.6" stroke="#000" stroke-width="4.4"/>
<line x1="1614.6" y1="3437.7" x2="1643.4" y2="3437.7" stroke="#000" stroke-width="4.4"/>
<text x="1609.8" y="3891.8" font-family="'Liberation Sans',sans-serif" font-size="37.5" stroke="#000" stroke-width="1.6" stroke-linejoin="round" text-anchor="end">0</text>
<line x1="1793.2" y1="3418" x2="1793.2" y2="3877" stroke="#000" stroke-width="2" stroke-dasharray="3 4.3"/>
<line x1="1969.8" y1="3418" x2="1969.8" y2="3877" stroke="#000" stroke-width="2" stroke-dasharray="3 4.3"/>
<line x1="1617.4" y1="3879" x2="2135.7" y2="3879" stroke="#000" stroke-width="5"/>
<line x1="1667.7" y1="3879" x2="1667.7" y2="3893.9" stroke="#000" stroke-width="4.4"/>
<line x1="1742.9" y1="3879" x2="1742.9" y2="3893.9" stroke="#000" stroke-width="4.4"/>
<line x1="1842.7" y1="3879" x2="1842.7" y2="3893.9" stroke="#000" stroke-width="4.4"/>
<line x1="1918.2" y1="3879" x2="1918.2" y2="3893.9" stroke="#000" stroke-width="4.4"/>
<line x1="2018.4" y1="3879" x2="2018.4" y2="3893.9" stroke="#000" stroke-width="4.4"/>
<line x1="2093.6" y1="3879" x2="2093.6" y2="3893.9" stroke="#000" stroke-width="4.4"/>
<text x="1680" y="3929.5" font-family="'Liberation Sans',sans-serif" font-size="38" transform="rotate(-45 1680 3929.5)" font-weight="bold" text-anchor="end">CD</text>
<text x="1755.2" y="3929.5" font-family="'Liberation Sans',sans-serif" font-size="38" transform="rotate(-45 1755.2 3929.5)" font-weight="bold" text-anchor="end">CD-S</text>
<text x="1855" y="3929.5" font-family="'Liberation Sans',sans-serif" font-size="38" transform="rotate(-45 1855 3929.5)" font-weight="bold" text-anchor="end">HSD</text>
<text x="1930.5" y="3929.5" font-family="'Liberation Sans',sans-serif" font-size="38" transform="rotate(-45 1930.5 3929.5)" font-weight="bold" text-anchor="end">HSD-S</text>
<text x="2030.7" y="3929.5" font-family="'Liberation Sans',sans-serif" font-size="38" transform="rotate(-45 2030.7 3929.5)" font-weight="bold" text-anchor="end">HFD</text>
<text x="2105.9" y="3929.5" font-family="'Liberation Sans',sans-serif" font-size="38" transform="rotate(-45 2105.9 3929.5)" font-weight="bold" text-anchor="end">HFD-S</text>
<text x="1528" y="3592.5" font-family="'Liberation Sans',sans-serif" font-size="43.3" transform="rotate(-90 1528 3592.5)" font-weight="bold" text-anchor="middle">Interscapular WAT+BAT [g]</text>
<rect x="1657.69" y="3764.62" width="20" height="20" fill="none" stroke="#000" stroke-width="2"/>
<rect x="1646.88" y="3788.65" width="20" height="20" fill="none" stroke="#000" stroke-width="2"/>
<rect x="1668.51" y="3790.58" width="20" height="20" fill="none" stroke="#000" stroke-width="2"/>
<rect x="1649.28" y="3795.87" width="20" height="20" fill="none" stroke="#000" stroke-width="2"/>
<rect x="1666.11" y="3798.27" width="20" height="20" fill="none" stroke="#000" stroke-width="2"/>
<rect x="1656.49" y="3799.47" width="20" height="20" fill="none" stroke="#000" stroke-width="2"/>
<rect x="1659.38" y="3802.12" width="20" height="20" fill="none" stroke="#000" stroke-width="2"/>
<rect x="1654.09" y="3804.28" width="20" height="20" fill="none" stroke="#000" stroke-width="2"/>
<rect x="1655.29" y="3807.4" width="20" height="20" fill="none" stroke="#000" stroke-width="2"/>
<rect x="1661.3" y="3809.09" width="20" height="20" fill="none" stroke="#000" stroke-width="2"/>
<rect x="1657.69" y="3812.69" width="20" height="20" fill="none" stroke="#000" stroke-width="2"/>
<line x1="1641.73" y1="3807.55" x2="1692.93" y2="3807.55" stroke="#000" stroke-width="4.4"/>
<rect x="1733.01" y="3795.47" width="20.8" height="20.8" fill="#000"/>
<rect x="1723.4" y="3806.28" width="20.8" height="20.8" fill="#000"/>
<rect x="1742.63" y="3808.69" width="20.8" height="20.8" fill="#000"/>
<rect x="1733.01" y="3815.9" width="20.8" height="20.8" fill="#000"/>
<rect x="1727" y="3824.31" width="20.8" height="20.8" fill="#000"/>
<rect x="1739.02" y="3825.51" width="20.8" height="20.8" fill="#000"/>
<rect x="1733.01" y="3833.93" width="20.8" height="20.8" fill="#000"/>
<line x1="1718.17" y1="3826.78" x2="1768.17" y2="3826.78" stroke="#000" stroke-width="4.4"/>
<polygon points="1843.65,3749.07 1853.65,3767.47 1833.65,3767.47" fill="none" stroke="#000" stroke-width="2" stroke-linejoin="miter"/>
<polygon points="1827.55,3767.34 1837.55,3785.74 1817.55,3785.74" fill="none" stroke="#000" stroke-width="2" stroke-linejoin="miter"/>
<polygon points="1858.8,3777.43 1868.8,3795.83 1848.8,3795.83" fill="none" stroke="#000" stroke-width="2" stroke-linejoin="miter"/>
<polygon points="1837.16,3781.04 1847.16,3799.44 1827.16,3799.44" fill="none" stroke="#000" stroke-width="2" stroke-linejoin="miter"/>
<polygon points="1849.18,3781.04 1859.18,3799.44 1839.18,3799.44" fill="none" stroke="#000" stroke-width="2" stroke-linejoin="miter"/>
<polygon points="1831.15,3792.34 1841.15,3810.74 1821.15,3810.74" fill="none" stroke="#000" stroke-width="2" stroke-linejoin="miter"/>
<polygon points="1854.71,3801.47 1864.71,3819.87 1844.71,3819.87" fill="none" stroke="#000" stroke-width="2" stroke-linejoin="miter"/>
<polygon points="1837.16,3805.56 1847.16,3823.96 1827.16,3823.96" fill="none" stroke="#000" stroke-width="2" stroke-linejoin="miter"/>
<polygon points="1849.18,3817.1 1859.18,3835.5 1839.18,3835.5" fill="none" stroke="#000" stroke-width="2" stroke-linejoin="miter"/>
<polygon points="1843.17,3821.91 1853.17,3840.31 1833.17,3840.31" fill="none" stroke="#000" stroke-width="2" stroke-linejoin="miter"/>
<line x1="1818.17" y1="3797.45" x2="1869.62" y2="3797.45" stroke="#000" stroke-width="4.4"/>
<polygon points="1908.8,3789.36 1919.8,3809.36 1897.8,3809.36" fill="#000"/>
<polygon points="1918.89,3789.36 1929.89,3809.36 1907.89,3809.36" fill="#000"/>
<polygon points="1929.23,3789.36 1940.23,3809.36 1918.23,3809.36" fill="#000"/>
<polygon points="1903.75,3806.18 1914.75,3826.18 1892.75,3826.18" fill="#000"/>
<polygon points="1934.52,3806.18 1945.52,3826.18 1923.52,3826.18" fill="#000"/>
<polygon points="1908.8,3808.59 1919.8,3828.59 1897.8,3828.59" fill="#000"/>
<polygon points="1927.31,3809.79 1938.31,3829.79 1916.31,3829.79" fill="#000"/>
<polygon points="1914.81,3825.41 1925.81,3845.41 1903.81,3845.41" fill="#000"/>
<line x1="1893.17" y1="3813.56" x2="1944.13" y2="3813.56" stroke="#000" stroke-width="4.4"/>
<circle cx="2019.81" cy="3606.59" r="9.9" fill="none" stroke="#000" stroke-width="2"/>
<circle cx="2032.31" cy="3699.38" r="9.9" fill="none" stroke="#000" stroke-width="2"/>
<circle cx="2006.59" cy="3708.99" r="9.9" fill="none" stroke="#000" stroke-width="2"/>
<circle cx="2004.18" cy="3722.69" r="9.9" fill="none" stroke="#000" stroke-width="2"/>
<circle cx="2035.91" cy="3728.7" r="9.9" fill="none" stroke="#000" stroke-width="2"/>
<circle cx="2012.6" cy="3740" r="9.9" fill="none" stroke="#000" stroke-width="2"/>
<circle cx="2026.3" cy="3741.44" r="9.9" fill="none" stroke="#000" stroke-width="2"/>
<circle cx="2019.81" cy="3785.91" r="9.9" fill="none" stroke="#000" stroke-width="2"/>
<line x1="1995.05" y1="3715.48" x2="2045.05" y2="3715.48" stroke="#000" stroke-width="4.4"/>
<circle cx="2082.31" cy="3660.19" r="10.3" fill="#000"/>
<circle cx="2120.77" cy="3666.2" r="10.3" fill="#000"/>
<circle cx="2108.03" cy="3681.11" r="10.3" fill="#000"/>
<circle cx="2082.31" cy="3703.46" r="10.3" fill="#000"/>
<circle cx="2082.31" cy="3746.01" r="10.3" fill="#000"/>
<circle cx="2108.03" cy="3754.66" r="10.3" fill="#000"/>
<circle cx="2084.71" cy="3773.89" r="10.3" fill="#000"/>
<circle cx="2105.62" cy="3790" r="10.3" fill="#000"/>
<circle cx="2094.81" cy="3798.41" r="10.3" fill="#000"/>
<line x1="2070.29" y1="3731.11" x2="2120.05" y2="3731.11" stroke="#000" stroke-width="4.4"/>
<line x1="1669.2" y1="3369.4" x2="2019.9" y2="3369.4" stroke="#000" stroke-width="2.4"/>
<text x="1847.25" y="3373.4" font-family="'DejaVu Sans',sans-serif" font-size="30" stroke="#000" stroke-width="0.7" stroke-linejoin="round" letter-spacing="2.3" font-weight="bold" text-anchor="middle">***</text>
<line x1="1745.5" y1="3338" x2="2095.1" y2="3338" stroke="#000" stroke-width="2.4"/>
<text x="1919.45" y="3342.9" font-family="'DejaVu Sans',sans-serif" font-size="30" stroke="#000" stroke-width="0.7" stroke-linejoin="round" letter-spacing="2.3" font-weight="bold" text-anchor="middle">***</text>
<line x1="1844.6" y1="3292.8" x2="2019.9" y2="3292.8" stroke="#5c5c5c" stroke-width="4.6"/>
<text x="1933.65" y="3298.2" font-family="'DejaVu Sans',sans-serif" font-size="30" stroke="#000" stroke-width="0.7" stroke-linejoin="round" letter-spacing="2.3" font-weight="bold" text-anchor="middle">***</text>
<line x1="1919.8" y1="3263.2" x2="2095.1" y2="3263.2" stroke="#000" stroke-width="2.4"/>
<text x="2009.85" y="3268.7" font-family="'DejaVu Sans',sans-serif" font-size="30" stroke="#000" stroke-width="0.7" stroke-linejoin="round" letter-spacing="2.3" font-weight="bold" text-anchor="middle">***</text>
</g>
</svg>
</body></html>
